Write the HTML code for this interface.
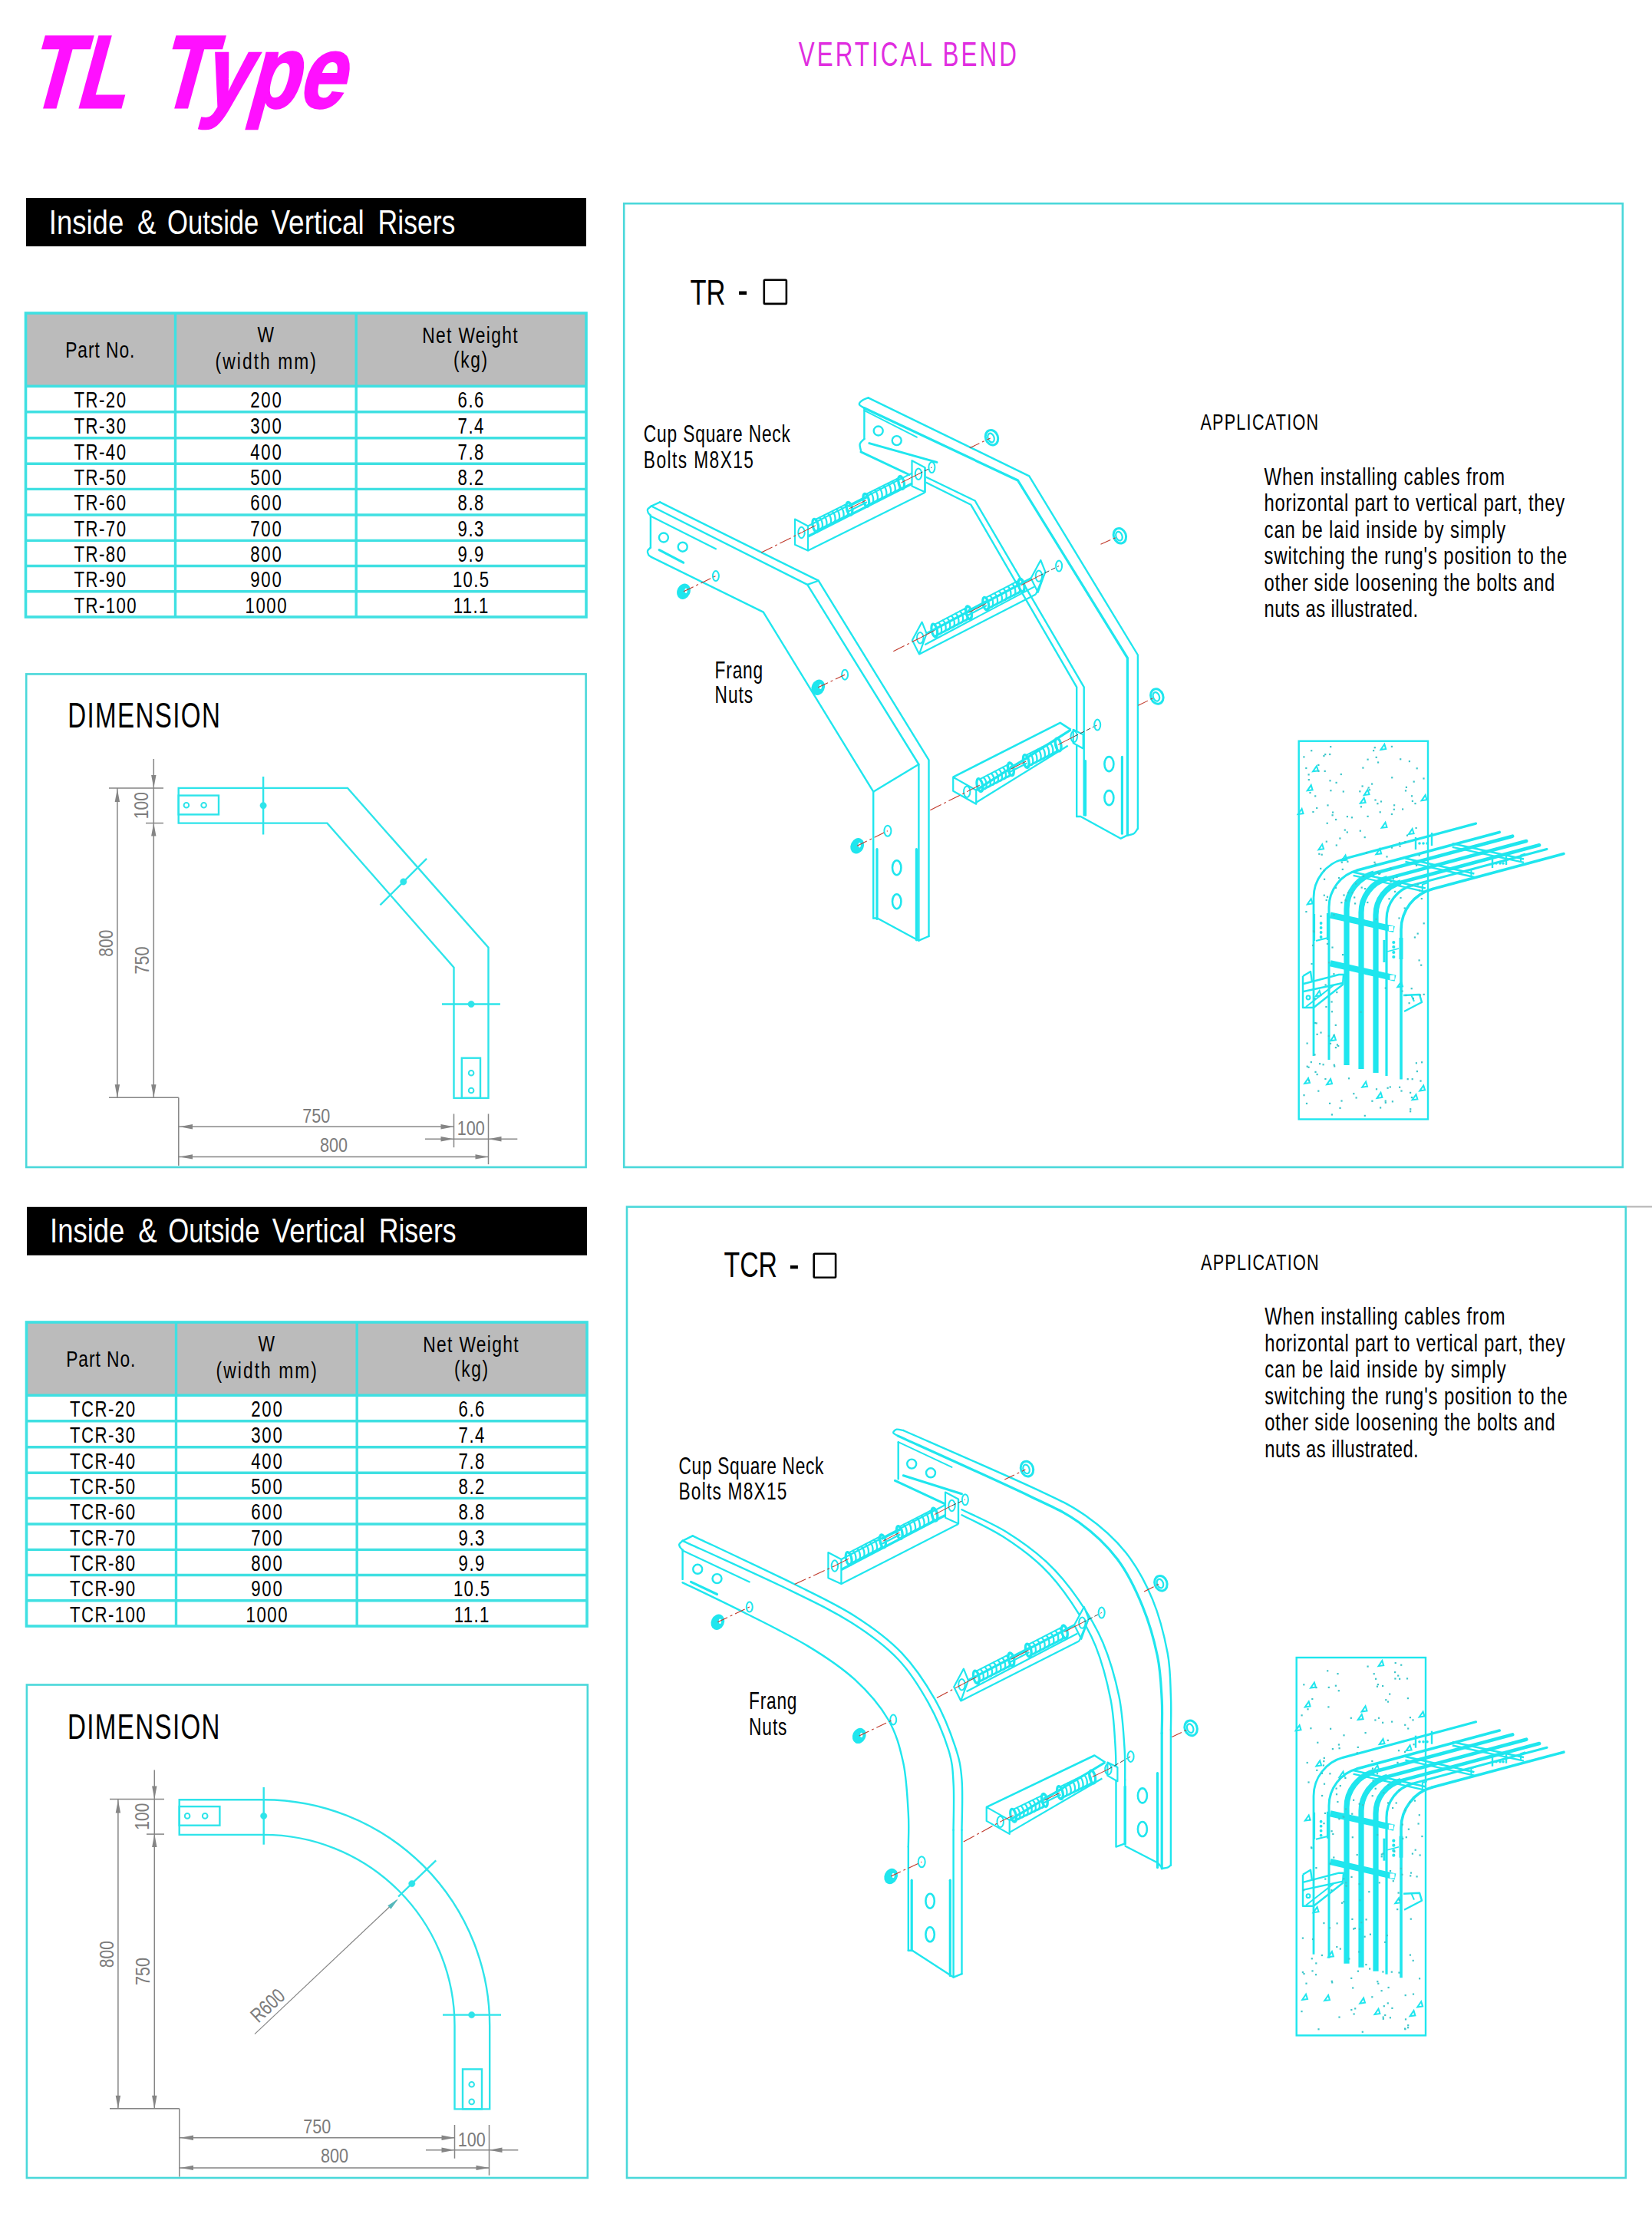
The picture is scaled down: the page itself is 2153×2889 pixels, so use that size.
<!DOCTYPE html>
<html><head><meta charset="utf-8"><style>
html,body{margin:0;padding:0;background:#fff;}
svg{display:block;font-family:"Liberation Sans",sans-serif;}
</style></head><body>
<svg width="2153" height="2889" viewBox="0 0 2153 2889">
<text transform="translate(33.2,140.4) skewX(-15.3) scale(0.78,1)" font-size="134" font-weight="bold" fill="#ff10ff" stroke="#ff10ff" stroke-width="3">TL</text>
<text transform="translate(203.8,140.4) skewX(-15.3) scale(0.80,1)" font-size="134" font-weight="bold" fill="#ff10ff" stroke="#ff10ff" stroke-width="3">Type</text>
<text transform="translate(1040.8,86) scale(0.72,1)" font-size="43.6" fill="#e02ee0" textLength="394.6" lengthAdjust="spacing">VERTICAL BEND</text>
<rect x="34" y="258" width="730" height="63" fill="#000"/>
<text x="63.8" y="304.6" font-size="44.5" fill="#fff" textLength="97.4" lengthAdjust="spacingAndGlyphs" >Inside</text>
<text x="179.0" y="304.6" font-size="44.5" fill="#fff" textLength="24.5" lengthAdjust="spacingAndGlyphs" >&amp;</text>
<text x="218.0" y="304.6" font-size="44.5" fill="#fff" textLength="119.4" lengthAdjust="spacingAndGlyphs" >Outside</text>
<text x="353.5" y="304.6" font-size="44.5" fill="#fff" textLength="121.2" lengthAdjust="spacingAndGlyphs" >Vertical</text>
<text x="492.5" y="304.6" font-size="44.5" fill="#fff" textLength="100.9" lengthAdjust="spacingAndGlyphs" >Risers</text>
<rect x="35" y="1572.8" width="730" height="63" fill="#000"/>
<text x="65.0" y="1619.4" font-size="44.5" fill="#fff" textLength="97.4" lengthAdjust="spacingAndGlyphs" >Inside</text>
<text x="180.2" y="1619.4" font-size="44.5" fill="#fff" textLength="24.5" lengthAdjust="spacingAndGlyphs" >&amp;</text>
<text x="219.2" y="1619.4" font-size="44.5" fill="#fff" textLength="119.4" lengthAdjust="spacingAndGlyphs" >Outside</text>
<text x="354.7" y="1619.4" font-size="44.5" fill="#fff" textLength="121.2" lengthAdjust="spacingAndGlyphs" >Vertical</text>
<text x="493.7" y="1619.4" font-size="44.5" fill="#fff" textLength="100.9" lengthAdjust="spacingAndGlyphs" >Risers</text>
<g transform="translate(0,0)">
<rect x="33.5" y="408" width="730.5" height="95" fill="#bbbbbb"/>
<rect x="33.5" y="408" width="730.5" height="396" fill="none" stroke="#3fe0e2" stroke-width="3.6"/>
<line x1="33.5" y1="503.2" x2="764" y2="503.2" stroke="#3fe0e2" stroke-width="3.4"/>
<line x1="33.5" y1="536.8" x2="764" y2="536.8" stroke="#3fe0e2" stroke-width="3.4"/>
<line x1="33.5" y1="570.8" x2="764" y2="570.8" stroke="#3fe0e2" stroke-width="3.4"/>
<line x1="33.5" y1="604.2" x2="764" y2="604.2" stroke="#3fe0e2" stroke-width="3.4"/>
<line x1="33.5" y1="637.4" x2="764" y2="637.4" stroke="#3fe0e2" stroke-width="3.4"/>
<line x1="33.5" y1="671.0" x2="764" y2="671.0" stroke="#3fe0e2" stroke-width="3.4"/>
<line x1="33.5" y1="704.4" x2="764" y2="704.4" stroke="#3fe0e2" stroke-width="3.4"/>
<line x1="33.5" y1="737.5" x2="764" y2="737.5" stroke="#3fe0e2" stroke-width="3.4"/>
<line x1="33.5" y1="770.8" x2="764" y2="770.8" stroke="#3fe0e2" stroke-width="3.4"/>
<line x1="228.5" y1="408" x2="228.5" y2="804" stroke="#3fe0e2" stroke-width="3.4"/>
<line x1="464.2" y1="408" x2="464.2" y2="804" stroke="#3fe0e2" stroke-width="3.4"/>
<text transform="translate(85.2,466) scale(0.76,1)" font-size="30" fill="#000" textLength="118.7" lengthAdjust="spacing">Part No.</text>
<text transform="translate(335.6,445.5) scale(0.76,1)" font-size="30" fill="#000" textLength="29.3" lengthAdjust="spacing">W</text>
<text transform="translate(280.6,480.5) scale(0.76,1)" font-size="30" fill="#000" textLength="172.8" lengthAdjust="spacing">(width mm)</text>
<text transform="translate(550.2,446.8) scale(0.76,1)" font-size="30" fill="#000" textLength="163.8" lengthAdjust="spacing">Net Weight</text>
<text transform="translate(591.0,479.3) scale(0.76,1)" font-size="30" fill="#000" textLength="58.0" lengthAdjust="spacing">(kg)</text>
<text transform="translate(96.5,531.2) scale(0.74,1)" font-size="30" textLength="91.2" lengthAdjust="spacing">TR-20</text>
<text transform="translate(326.2,531.2) scale(0.74,1)" font-size="30" textLength="54.8" lengthAdjust="spacing">200</text>
<text transform="translate(596.6,531.2) scale(0.74,1)" font-size="30" textLength="45.6" lengthAdjust="spacing">6.6</text>
<text transform="translate(96.5,565.2) scale(0.74,1)" font-size="30" textLength="91.2" lengthAdjust="spacing">TR-30</text>
<text transform="translate(326.2,565.2) scale(0.74,1)" font-size="30" textLength="54.8" lengthAdjust="spacing">300</text>
<text transform="translate(596.6,565.2) scale(0.74,1)" font-size="30" textLength="45.6" lengthAdjust="spacing">7.4</text>
<text transform="translate(96.5,598.6) scale(0.74,1)" font-size="30" textLength="91.2" lengthAdjust="spacing">TR-40</text>
<text transform="translate(326.2,598.6) scale(0.74,1)" font-size="30" textLength="54.8" lengthAdjust="spacing">400</text>
<text transform="translate(596.6,598.6) scale(0.74,1)" font-size="30" textLength="45.6" lengthAdjust="spacing">7.8</text>
<text transform="translate(96.5,631.8) scale(0.74,1)" font-size="30" textLength="91.2" lengthAdjust="spacing">TR-50</text>
<text transform="translate(326.2,631.8) scale(0.74,1)" font-size="30" textLength="54.8" lengthAdjust="spacing">500</text>
<text transform="translate(596.6,631.8) scale(0.74,1)" font-size="30" textLength="45.6" lengthAdjust="spacing">8.2</text>
<text transform="translate(96.5,665.4) scale(0.74,1)" font-size="30" textLength="91.2" lengthAdjust="spacing">TR-60</text>
<text transform="translate(326.2,665.4) scale(0.74,1)" font-size="30" textLength="54.8" lengthAdjust="spacing">600</text>
<text transform="translate(596.6,665.4) scale(0.74,1)" font-size="30" textLength="45.6" lengthAdjust="spacing">8.8</text>
<text transform="translate(96.5,698.8) scale(0.74,1)" font-size="30" textLength="91.2" lengthAdjust="spacing">TR-70</text>
<text transform="translate(326.2,698.8) scale(0.74,1)" font-size="30" textLength="54.8" lengthAdjust="spacing">700</text>
<text transform="translate(596.6,698.8) scale(0.74,1)" font-size="30" textLength="45.6" lengthAdjust="spacing">9.3</text>
<text transform="translate(96.5,731.9) scale(0.74,1)" font-size="30" textLength="91.2" lengthAdjust="spacing">TR-80</text>
<text transform="translate(326.2,731.9) scale(0.74,1)" font-size="30" textLength="54.8" lengthAdjust="spacing">800</text>
<text transform="translate(596.6,731.9) scale(0.74,1)" font-size="30" textLength="45.6" lengthAdjust="spacing">9.9</text>
<text transform="translate(96.5,765.2) scale(0.74,1)" font-size="30" textLength="91.2" lengthAdjust="spacing">TR-90</text>
<text transform="translate(326.2,765.2) scale(0.74,1)" font-size="30" textLength="54.8" lengthAdjust="spacing">900</text>
<text transform="translate(589.9,765.2) scale(0.74,1)" font-size="30" textLength="63.9" lengthAdjust="spacing">10.5</text>
<text transform="translate(96.5,798.8) scale(0.74,1)" font-size="30" textLength="109.5" lengthAdjust="spacing">TR-100</text>
<text transform="translate(319.5,798.8) scale(0.74,1)" font-size="30" textLength="73.1" lengthAdjust="spacing">1000</text>
<text transform="translate(590.8,798.8) scale(0.74,1)" font-size="30" textLength="61.5" lengthAdjust="spacing">11.1</text>
</g>
<g transform="translate(1,1315)">
<rect x="33.5" y="408" width="730.5" height="95" fill="#bbbbbb"/>
<rect x="33.5" y="408" width="730.5" height="396" fill="none" stroke="#3fe0e2" stroke-width="3.6"/>
<line x1="33.5" y1="503.2" x2="764" y2="503.2" stroke="#3fe0e2" stroke-width="3.4"/>
<line x1="33.5" y1="536.8" x2="764" y2="536.8" stroke="#3fe0e2" stroke-width="3.4"/>
<line x1="33.5" y1="570.8" x2="764" y2="570.8" stroke="#3fe0e2" stroke-width="3.4"/>
<line x1="33.5" y1="604.2" x2="764" y2="604.2" stroke="#3fe0e2" stroke-width="3.4"/>
<line x1="33.5" y1="637.4" x2="764" y2="637.4" stroke="#3fe0e2" stroke-width="3.4"/>
<line x1="33.5" y1="671.0" x2="764" y2="671.0" stroke="#3fe0e2" stroke-width="3.4"/>
<line x1="33.5" y1="704.4" x2="764" y2="704.4" stroke="#3fe0e2" stroke-width="3.4"/>
<line x1="33.5" y1="737.5" x2="764" y2="737.5" stroke="#3fe0e2" stroke-width="3.4"/>
<line x1="33.5" y1="770.8" x2="764" y2="770.8" stroke="#3fe0e2" stroke-width="3.4"/>
<line x1="228.5" y1="408" x2="228.5" y2="804" stroke="#3fe0e2" stroke-width="3.4"/>
<line x1="464.2" y1="408" x2="464.2" y2="804" stroke="#3fe0e2" stroke-width="3.4"/>
<text transform="translate(85.2,466) scale(0.76,1)" font-size="30" fill="#000" textLength="118.7" lengthAdjust="spacing">Part No.</text>
<text transform="translate(335.6,445.5) scale(0.76,1)" font-size="30" fill="#000" textLength="29.3" lengthAdjust="spacing">W</text>
<text transform="translate(280.6,480.5) scale(0.76,1)" font-size="30" fill="#000" textLength="172.8" lengthAdjust="spacing">(width mm)</text>
<text transform="translate(550.2,446.8) scale(0.76,1)" font-size="30" fill="#000" textLength="163.8" lengthAdjust="spacing">Net Weight</text>
<text transform="translate(591.0,479.3) scale(0.76,1)" font-size="30" fill="#000" textLength="58.0" lengthAdjust="spacing">(kg)</text>
<text transform="translate(90.0,531.2) scale(0.74,1)" font-size="30" textLength="114.9" lengthAdjust="spacing">TCR-20</text>
<text transform="translate(326.2,531.2) scale(0.74,1)" font-size="30" textLength="54.8" lengthAdjust="spacing">200</text>
<text transform="translate(596.6,531.2) scale(0.74,1)" font-size="30" textLength="45.6" lengthAdjust="spacing">6.6</text>
<text transform="translate(90.0,565.2) scale(0.74,1)" font-size="30" textLength="114.9" lengthAdjust="spacing">TCR-30</text>
<text transform="translate(326.2,565.2) scale(0.74,1)" font-size="30" textLength="54.8" lengthAdjust="spacing">300</text>
<text transform="translate(596.6,565.2) scale(0.74,1)" font-size="30" textLength="45.6" lengthAdjust="spacing">7.4</text>
<text transform="translate(90.0,598.6) scale(0.74,1)" font-size="30" textLength="114.9" lengthAdjust="spacing">TCR-40</text>
<text transform="translate(326.2,598.6) scale(0.74,1)" font-size="30" textLength="54.8" lengthAdjust="spacing">400</text>
<text transform="translate(596.6,598.6) scale(0.74,1)" font-size="30" textLength="45.6" lengthAdjust="spacing">7.8</text>
<text transform="translate(90.0,631.8) scale(0.74,1)" font-size="30" textLength="114.9" lengthAdjust="spacing">TCR-50</text>
<text transform="translate(326.2,631.8) scale(0.74,1)" font-size="30" textLength="54.8" lengthAdjust="spacing">500</text>
<text transform="translate(596.6,631.8) scale(0.74,1)" font-size="30" textLength="45.6" lengthAdjust="spacing">8.2</text>
<text transform="translate(90.0,665.4) scale(0.74,1)" font-size="30" textLength="114.9" lengthAdjust="spacing">TCR-60</text>
<text transform="translate(326.2,665.4) scale(0.74,1)" font-size="30" textLength="54.8" lengthAdjust="spacing">600</text>
<text transform="translate(596.6,665.4) scale(0.74,1)" font-size="30" textLength="45.6" lengthAdjust="spacing">8.8</text>
<text transform="translate(90.0,698.8) scale(0.74,1)" font-size="30" textLength="114.9" lengthAdjust="spacing">TCR-70</text>
<text transform="translate(326.2,698.8) scale(0.74,1)" font-size="30" textLength="54.8" lengthAdjust="spacing">700</text>
<text transform="translate(596.6,698.8) scale(0.74,1)" font-size="30" textLength="45.6" lengthAdjust="spacing">9.3</text>
<text transform="translate(90.0,731.9) scale(0.74,1)" font-size="30" textLength="114.9" lengthAdjust="spacing">TCR-80</text>
<text transform="translate(326.2,731.9) scale(0.74,1)" font-size="30" textLength="54.8" lengthAdjust="spacing">800</text>
<text transform="translate(596.6,731.9) scale(0.74,1)" font-size="30" textLength="45.6" lengthAdjust="spacing">9.9</text>
<text transform="translate(90.0,765.2) scale(0.74,1)" font-size="30" textLength="114.9" lengthAdjust="spacing">TCR-90</text>
<text transform="translate(326.2,765.2) scale(0.74,1)" font-size="30" textLength="54.8" lengthAdjust="spacing">900</text>
<text transform="translate(589.9,765.2) scale(0.74,1)" font-size="30" textLength="63.9" lengthAdjust="spacing">10.5</text>
<text transform="translate(90.0,798.8) scale(0.74,1)" font-size="30" textLength="133.2" lengthAdjust="spacing">TCR-100</text>
<text transform="translate(319.5,798.8) scale(0.74,1)" font-size="30" textLength="73.1" lengthAdjust="spacing">1000</text>
<text transform="translate(590.8,798.8) scale(0.74,1)" font-size="30" textLength="61.5" lengthAdjust="spacing">11.1</text>
</g>
<rect x="34.2" y="878.4" width="729.4" height="642.6" fill="none" stroke="#4ad8da" stroke-width="2.6"/>
<rect x="34.9" y="2195.5" width="730.9" height="642.5" fill="none" stroke="#4ad8da" stroke-width="2.6"/>
<rect x="813.2" y="265.2" width="1301.6" height="1255.8" fill="none" stroke="#4ad8da" stroke-width="2.6"/>
<rect x="817" y="1572.6" width="1301.8" height="1265.4" fill="none" stroke="#4ad8da" stroke-width="2.6"/>
<line x1="2120" y1="1572.6" x2="2153" y2="1572.6" stroke="#b4b4b4" stroke-width="2"/>
<text transform="translate(88.3,948.3) scale(0.72,1)" font-size="46" fill="#000" textLength="275.7" lengthAdjust="spacing">DIMENSION</text>
<text transform="translate(88.0,2265.8) scale(0.72,1)" font-size="46" fill="#000" textLength="275.7" lengthAdjust="spacing">DIMENSION</text>
<text x="899.5" y="396.5" font-size="46" fill="#000" textLength="46" lengthAdjust="spacingAndGlyphs" >TR</text>
<rect x="963.1" y="379.5" width="10" height="4.6" fill="#000"/>
<rect x="995.8" y="364.7" width="29.1" height="31.2" rx="1.2" fill="none" stroke="#000" stroke-width="2.6"/>
<text x="943.5" y="1664" font-size="46" fill="#000" textLength="69.5" lengthAdjust="spacingAndGlyphs" >TCR</text>
<rect x="1029.9" y="1649" width="10" height="4.4" fill="#000"/>
<text transform="translate(1564.4,560.1) scale(0.72,1)" font-size="30" fill="#000" textLength="213.5" lengthAdjust="spacing">APPLICATION</text>
<text transform="translate(1647.6,631.6) scale(0.78,1)" font-size="30.5" textLength="401.9" lengthAdjust="spacing">When installing cables from</text>
<text transform="translate(1647.6,666.15) scale(0.78,1)" font-size="30.5" textLength="501.9" lengthAdjust="spacing">horizontal part to vertical part, they</text>
<text transform="translate(1647.6,700.7) scale(0.78,1)" font-size="30.5" textLength="403.2" lengthAdjust="spacing">can be laid inside by simply</text>
<text transform="translate(1647.6,735.25) scale(0.78,1)" font-size="30.5" textLength="505.8" lengthAdjust="spacing">switching the rung's position to the</text>
<text transform="translate(1647.6,769.8) scale(0.78,1)" font-size="30.5" textLength="485.3" lengthAdjust="spacing">other side loosening the bolts and</text>
<text transform="translate(1647.6,804.35) scale(0.78,1)" font-size="30.5" textLength="257.1" lengthAdjust="spacing">nuts as illustrated.</text>
<text transform="translate(1565.0,1654.6999999999998) scale(0.72,1)" font-size="30" fill="#000" textLength="213.5" lengthAdjust="spacing">APPLICATION</text>
<text transform="translate(1648.1999999999998,1726.1999999999998) scale(0.78,1)" font-size="30.5" textLength="401.9" lengthAdjust="spacing">When installing cables from</text>
<text transform="translate(1648.1999999999998,1760.7499999999998) scale(0.78,1)" font-size="30.5" textLength="501.9" lengthAdjust="spacing">horizontal part to vertical part, they</text>
<text transform="translate(1648.1999999999998,1795.2999999999997) scale(0.78,1)" font-size="30.5" textLength="403.2" lengthAdjust="spacing">can be laid inside by simply</text>
<text transform="translate(1648.1999999999998,1829.85) scale(0.78,1)" font-size="30.5" textLength="505.8" lengthAdjust="spacing">switching the rung's position to the</text>
<text transform="translate(1648.1999999999998,1864.3999999999999) scale(0.78,1)" font-size="30.5" textLength="485.3" lengthAdjust="spacing">other side loosening the bolts and</text>
<text transform="translate(1648.1999999999998,1898.9499999999998) scale(0.78,1)" font-size="30.5" textLength="257.1" lengthAdjust="spacing">nuts as illustrated.</text>
<text transform="translate(838.8,576.3) scale(0.71,1)" font-size="32" fill="#000" textLength="269.2" lengthAdjust="spacing">Cup Square Neck</text>
<text transform="translate(838.8,610.2) scale(0.71,1)" font-size="32" fill="#000" textLength="201.7" lengthAdjust="spacing">Bolts M8X15</text>
<polygon points="232.7,1026.9 453,1026.9 636.5,1234.7 636.5,1430.9 591.5,1430.9 591.5,1260.6 426.4,1072.6 232.7,1072.6" fill="none" stroke="#2ee4ea" stroke-width="2.4" stroke-linejoin="miter"/>
<rect x="232.7" y="1036.6" width="52.3" height="24.8" fill="none" stroke="#2ee4ea" stroke-width="2.4"/>
<circle cx="242.9" cy="1049.2" r="3.3" fill="none" stroke="#2ee4ea" stroke-width="2"/>
<circle cx="265.6" cy="1049.2" r="3.3" fill="none" stroke="#2ee4ea" stroke-width="2"/>
<line x1="343.1" y1="1012.0" x2="343.1" y2="1087.5" stroke="#2ee4ea" stroke-width="2.4"/>
<circle cx="343.1" cy="1049.7" r="4.2" fill="#2ee4ea" stroke="#2ee4ea" stroke-width="0.5"/>
<line x1="495.5" y1="1179.4" x2="556.1" y2="1118.8" stroke="#2ee4ea" stroke-width="2.4"/>
<circle cx="525.8" cy="1149.0" r="4.2" fill="#2ee4ea" stroke="#2ee4ea" stroke-width="0.5"/>
<rect x="601.8" y="1378.7" width="24.2" height="52.2" fill="none" stroke="#2ee4ea" stroke-width="2.4"/>
<circle cx="614.1" cy="1398.3" r="3.3" fill="none" stroke="#2ee4ea" stroke-width="2"/>
<circle cx="614.1" cy="1421.0" r="3.3" fill="none" stroke="#2ee4ea" stroke-width="2"/>
<line x1="576.0" y1="1308.5" x2="651.9" y2="1308.5" stroke="#2ee4ea" stroke-width="2.4"/>
<circle cx="614.1" cy="1308.5" r="4.2" fill="#2ee4ea" stroke="#2ee4ea" stroke-width="0.5"/>
<line x1="142.0" y1="1026.9" x2="213.0" y2="1026.9" stroke="#858585" stroke-width="1.5"/>
<line x1="190.0" y1="1072.6" x2="213.0" y2="1072.6" stroke="#858585" stroke-width="1.5"/>
<line x1="200.3" y1="989.0" x2="200.3" y2="1430.3" stroke="#858585" stroke-width="1.5"/>
<polygon points="200.3,1026.9 197.1,1009.9 203.5,1009.9" fill="#858585"/>
<polygon points="200.3,1072.6 203.5,1089.6 197.1,1089.6" fill="#858585"/>
<polygon points="200.3,1430.3 197.1,1413.3 203.5,1413.3" fill="#858585"/>
<line x1="152.9" y1="1026.9" x2="152.9" y2="1430.3" stroke="#858585" stroke-width="1.5"/>
<polygon points="152.9,1028.0 156.1,1045.0 149.7,1045.0" fill="#858585"/>
<polygon points="152.9,1430.3 149.7,1413.3 156.1,1413.3" fill="#858585"/>
<line x1="142.0" y1="1430.3" x2="232.8" y2="1430.3" stroke="#858585" stroke-width="1.5"/>
<line x1="232.8" y1="1430.3" x2="232.8" y2="1519.0" stroke="#858585" stroke-width="1.5"/>
<line x1="232.8" y1="1468.3" x2="591.5" y2="1468.3" stroke="#858585" stroke-width="1.5"/>
<polygon points="234.0,1468.3 251.0,1465.1 251.0,1471.5" fill="#858585"/>
<polygon points="591.5,1468.3 574.5,1471.5 574.5,1465.1" fill="#858585"/>
<line x1="554.0" y1="1484.3" x2="674.3" y2="1484.3" stroke="#858585" stroke-width="1.5"/>
<polygon points="591.5,1484.3 574.5,1487.5 574.5,1481.1" fill="#858585"/>
<polygon points="636.5,1484.3 653.5,1481.1 653.5,1487.5" fill="#858585"/>
<line x1="232.8" y1="1507.4" x2="636.5" y2="1507.4" stroke="#858585" stroke-width="1.5"/>
<polygon points="234.0,1507.4 251.0,1504.2 251.0,1510.6" fill="#858585"/>
<polygon points="636.5,1507.4 619.5,1510.6 619.5,1504.2" fill="#858585"/>
<line x1="591.5" y1="1451.5" x2="591.5" y2="1495.2" stroke="#858585" stroke-width="1.5"/>
<line x1="636.5" y1="1451.5" x2="636.5" y2="1517.2" stroke="#858585" stroke-width="1.5"/>
<text x="193.5" y="1049.7" font-size="26.5" fill="#7c7c7c" text-anchor="middle" textLength="35" lengthAdjust="spacingAndGlyphs" transform="rotate(-90 193.5 1049.7)">100</text>
<text x="147.0" y="1229.2" font-size="26.5" fill="#7c7c7c" text-anchor="middle" textLength="35" lengthAdjust="spacingAndGlyphs" transform="rotate(-90 147.0 1229.2)">800</text>
<text x="194.5" y="1251.4" font-size="26.5" fill="#7c7c7c" text-anchor="middle" textLength="36" lengthAdjust="spacingAndGlyphs" transform="rotate(-90 194.5 1251.4)">750</text>
<text x="412.2" y="1462.8" font-size="26.5" fill="#7c7c7c" text-anchor="middle" textLength="36" lengthAdjust="spacingAndGlyphs">750</text>
<text x="434.9" y="1500.9" font-size="26.5" fill="#7c7c7c" text-anchor="middle" textLength="36" lengthAdjust="spacingAndGlyphs">800</text>
<text x="613.8" y="1479.4" font-size="26.5" fill="#7c7c7c" text-anchor="middle" textLength="36" lengthAdjust="spacingAndGlyphs">100</text>
<g transform="translate(1.0,1317.5)">
<line x1="142.0" y1="1026.9" x2="213.0" y2="1026.9" stroke="#858585" stroke-width="1.5"/>
<line x1="190.0" y1="1072.6" x2="213.0" y2="1072.6" stroke="#858585" stroke-width="1.5"/>
<line x1="200.3" y1="989.0" x2="200.3" y2="1430.3" stroke="#858585" stroke-width="1.5"/>
<polygon points="200.3,1026.9 197.1,1009.9 203.5,1009.9" fill="#858585"/>
<polygon points="200.3,1072.6 203.5,1089.6 197.1,1089.6" fill="#858585"/>
<polygon points="200.3,1430.3 197.1,1413.3 203.5,1413.3" fill="#858585"/>
<line x1="152.9" y1="1026.9" x2="152.9" y2="1430.3" stroke="#858585" stroke-width="1.5"/>
<polygon points="152.9,1028.0 156.1,1045.0 149.7,1045.0" fill="#858585"/>
<polygon points="152.9,1430.3 149.7,1413.3 156.1,1413.3" fill="#858585"/>
<line x1="142.0" y1="1430.3" x2="232.8" y2="1430.3" stroke="#858585" stroke-width="1.5"/>
<line x1="232.8" y1="1430.3" x2="232.8" y2="1519.0" stroke="#858585" stroke-width="1.5"/>
<line x1="232.8" y1="1468.3" x2="591.5" y2="1468.3" stroke="#858585" stroke-width="1.5"/>
<polygon points="234.0,1468.3 251.0,1465.1 251.0,1471.5" fill="#858585"/>
<polygon points="591.5,1468.3 574.5,1471.5 574.5,1465.1" fill="#858585"/>
<line x1="554.0" y1="1484.3" x2="674.3" y2="1484.3" stroke="#858585" stroke-width="1.5"/>
<polygon points="591.5,1484.3 574.5,1487.5 574.5,1481.1" fill="#858585"/>
<polygon points="636.5,1484.3 653.5,1481.1 653.5,1487.5" fill="#858585"/>
<line x1="232.8" y1="1507.4" x2="636.5" y2="1507.4" stroke="#858585" stroke-width="1.5"/>
<polygon points="234.0,1507.4 251.0,1504.2 251.0,1510.6" fill="#858585"/>
<polygon points="636.5,1507.4 619.5,1510.6 619.5,1504.2" fill="#858585"/>
<line x1="591.5" y1="1451.5" x2="591.5" y2="1495.2" stroke="#858585" stroke-width="1.5"/>
<line x1="636.5" y1="1451.5" x2="636.5" y2="1517.2" stroke="#858585" stroke-width="1.5"/>
<text x="193.5" y="1049.7" font-size="26.5" fill="#7c7c7c" text-anchor="middle" textLength="35" lengthAdjust="spacingAndGlyphs" transform="rotate(-90 193.5 1049.7)">100</text>
<text x="147.0" y="1229.2" font-size="26.5" fill="#7c7c7c" text-anchor="middle" textLength="35" lengthAdjust="spacingAndGlyphs" transform="rotate(-90 147.0 1229.2)">800</text>
<text x="194.5" y="1251.4" font-size="26.5" fill="#7c7c7c" text-anchor="middle" textLength="36" lengthAdjust="spacingAndGlyphs" transform="rotate(-90 194.5 1251.4)">750</text>
<text x="412.2" y="1462.8" font-size="26.5" fill="#7c7c7c" text-anchor="middle" textLength="36" lengthAdjust="spacingAndGlyphs">750</text>
<text x="434.9" y="1500.9" font-size="26.5" fill="#7c7c7c" text-anchor="middle" textLength="36" lengthAdjust="spacingAndGlyphs">800</text>
<text x="613.8" y="1479.4" font-size="26.5" fill="#7c7c7c" text-anchor="middle" textLength="36" lengthAdjust="spacingAndGlyphs">100</text>
</g>
<path d="M233.7,2345.2 L343.7,2345.2 A294.5,294.5 0 0 1 638.2,2639.7 L638.2,2748.4 L592.5,2748.4 L592.5,2639.7 A248.8,248.8 0 0 0 343.7,2390.8999999999996 L233.7,2390.8999999999996 Z" fill="none" stroke="#2ee4ea" stroke-width="2.4"/>
<rect x="233.7" y="2354.1" width="52.7" height="24.6" fill="none" stroke="#2ee4ea" stroke-width="2.4"/>
<circle cx="244.1" cy="2366.4" r="3.3" fill="none" stroke="#2ee4ea" stroke-width="2"/>
<circle cx="267.2" cy="2366.4" r="3.3" fill="none" stroke="#2ee4ea" stroke-width="2"/>
<line x1="343.7" y1="2329.0" x2="343.7" y2="2403.7" stroke="#2ee4ea" stroke-width="2.4"/>
<circle cx="343.7" cy="2366.4" r="4.2" fill="#2ee4ea" stroke="#2ee4ea" stroke-width="0.5"/>
<line x1="519.1" y1="2471.5" x2="568.2" y2="2424.4" stroke="#2ee4ea" stroke-width="2.4"/>
<circle cx="536.8" cy="2454.6" r="4.2" fill="#2ee4ea" stroke="#2ee4ea" stroke-width="0.5"/>
<rect x="603" y="2696.4" width="25" height="52" fill="none" stroke="#2ee4ea" stroke-width="2.4"/>
<circle cx="614.7" cy="2716.3" r="3.3" fill="none" stroke="#2ee4ea" stroke-width="2"/>
<circle cx="614.7" cy="2738.9" r="3.3" fill="none" stroke="#2ee4ea" stroke-width="2"/>
<line x1="577.0" y1="2625.6" x2="653.0" y2="2625.6" stroke="#2ee4ea" stroke-width="2.4"/>
<circle cx="614.7" cy="2625.6" r="4.2" fill="#2ee4ea" stroke="#2ee4ea" stroke-width="0.5"/>
<line x1="332.0" y1="2650.6" x2="517.0" y2="2476.0" stroke="#858585" stroke-width="1.2"/>
<polygon points="519.0,2474.5 509.4,2487.7 505.3,2483.3" fill="#55b8bb"/>
<text x="355.0" y="2620.0" font-size="26.5" fill="#7c7c7c" text-anchor="middle" textLength="50" lengthAdjust="spacingAndGlyphs" transform="rotate(-43 355.0 2620.0)">R600</text>
<polyline points="860.1,654.3 1066.7,756.7 1210.5,990.3 1210.5,1220.0" fill="none" stroke="#1fe6ee" stroke-width="2.4" stroke-linejoin="round" stroke-linecap="round" />
<polyline points="848.8,659.5 1052.3,761.9 1197.4,996.0 1197.4,1225.7" fill="none" stroke="#1fe6ee" stroke-width="2.4" stroke-linejoin="round" stroke-linecap="round" />
<polyline points="848.8,725.8 994.8,797.7 1138.2,1031.7 1138.2,1196.5" fill="none" stroke="#1fe6ee" stroke-width="2.4" stroke-linejoin="round" stroke-linecap="round" />
<polyline points="1138.2,1196.5 1143.4,1196.5 1197.4,1225.7 1210.5,1220.0" fill="none" stroke="#1fe6ee" stroke-width="2.4" stroke-linejoin="round" stroke-linecap="round" />
<polyline points="1138.2,1031.7 1197.4,996.0" fill="none" stroke="#1fe6ee" stroke-width="2.4" stroke-linejoin="round" stroke-linecap="round" />
<polyline points="1052.3,761.9 1066.7,756.7" fill="none" stroke="#1fe6ee" stroke-width="2.2" stroke-linejoin="round" stroke-linecap="round" />
<path d="M848.8,659.5 C848.0,660.2 844.6,662.4 844.0,663.9 C843.3,665.3 844.2,666.9 844.8,668.2 C845.5,669.5 847.4,671.1 847.9,671.7" fill="none" stroke="#1fe6ee" stroke-width="2.4" stroke-linecap="round"/>
<polyline points="847.9,671.7 847.9,713.6" fill="none" stroke="#1fe6ee" stroke-width="2.4" stroke-linejoin="round" stroke-linecap="round" />
<path d="M847.9,713.6 C847.2,714.3 844.4,716.3 844.0,717.9 C843.5,719.5 844.5,721.8 845.3,723.2 C846.1,724.5 848.2,725.3 848.8,725.8" fill="none" stroke="#1fe6ee" stroke-width="2.4" stroke-linecap="round"/>
<polyline points="860.1,654.3 848.8,659.5" fill="none" stroke="#1fe6ee" stroke-width="2.4" stroke-linejoin="round" stroke-linecap="round" />
<polyline points="847.9,672.6 932.9,715.3" fill="none" stroke="#1fe6ee" stroke-width="2.2" stroke-linejoin="round" stroke-linecap="round" />
<polyline points="859.2,716.6 890.6,733.2" fill="none" stroke="#1fe6ee" stroke-width="3.2" stroke-linejoin="round" stroke-linecap="round" />
<ellipse cx="864.9" cy="700.5" rx="6" ry="6" fill="none" stroke="#1fe6ee" stroke-width="2.4"/>
<ellipse cx="889.7" cy="712.7" rx="6" ry="6" fill="none" stroke="#1fe6ee" stroke-width="2.4"/>
<polyline points="1143.0,1106.7 1143.0,1197.4" fill="none" stroke="#1fe6ee" stroke-width="3.2" stroke-linejoin="round" stroke-linecap="round" />
<polyline points="1194.4,1106.7 1194.4,1224.8" fill="none" stroke="#1fe6ee" stroke-width="3.2" stroke-linejoin="round" stroke-linecap="round" />
<ellipse cx="1168.7" cy="1130.7" rx="5.7" ry="9.5" fill="none" stroke="#1fe6ee" stroke-width="2.6"/>
<ellipse cx="1168.7" cy="1174.7" rx="5.7" ry="9.5" fill="none" stroke="#1fe6ee" stroke-width="2.6"/>
<ellipse cx="932.9" cy="750.6" rx="4" ry="6.5" fill="none" stroke="#1fe6ee" stroke-width="2"/>
<ellipse cx="891.0" cy="770.7" rx="8.5" ry="10.5" fill="#1fe6ee" transform="rotate(25 891.0 770.7)"/><ellipse cx="894.0" cy="769.7" rx="1.6" ry="3.2" fill="#fff"/>
<line x1="891.0" y1="770.7" x2="932.9" y2="750.6" stroke="#c0392b" stroke-width="1.1" stroke-dasharray="14 4 3 4"/>
<ellipse cx="1101.1" cy="879.2" rx="4" ry="6.5" fill="none" stroke="#1fe6ee" stroke-width="2"/>
<ellipse cx="1066.3" cy="895.7" rx="8.5" ry="10.5" fill="#1fe6ee" transform="rotate(25 1066.3 895.7)"/><ellipse cx="1069.3" cy="894.7" rx="1.6" ry="3.2" fill="#fff"/>
<line x1="1066.3" y1="895.7" x2="1101.1" y2="879.2" stroke="#c0392b" stroke-width="1.1" stroke-dasharray="14 4 3 4"/>
<ellipse cx="1156.9" cy="1082.7" rx="4.5" ry="7" fill="none" stroke="#1fe6ee" stroke-width="2"/>
<ellipse cx="1117.2" cy="1102.3" rx="8.5" ry="10.5" fill="#1fe6ee" transform="rotate(25 1117.2 1102.3)"/><ellipse cx="1120.2" cy="1101.3" rx="1.6" ry="3.2" fill="#fff"/>
<line x1="1117.2" y1="1102.3" x2="1156.9" y2="1082.7" stroke="#c0392b" stroke-width="1.1" stroke-dasharray="14 4 3 4"/>
<polyline points="1131.6,518.3 1341.3,620.3 1482.9,853.5 1482.9,1079.7" fill="none" stroke="#1fe6ee" stroke-width="2.4" stroke-linejoin="round" stroke-linecap="round" />
<polyline points="1126.4,531.8 1326.5,626.0 1469.4,857.4 1469.4,1088.4" fill="none" stroke="#1fe6ee" stroke-width="3.2" stroke-linejoin="round" stroke-linecap="round" />
<path d="M1469.4,1088.4 C1470.7,1088.1 1475.0,1088.1 1477.3,1086.6 C1479.5,1085.2 1482.0,1080.8 1482.9,1079.7" fill="none" stroke="#1fe6ee" stroke-width="2.4" stroke-linecap="round"/>
<path d="M1126.4,531.8 C1125.3,531.0 1120.3,528.7 1119.9,527.0 C1119.4,525.4 1121.8,523.2 1123.8,521.8 C1125.7,520.3 1130.3,518.9 1131.6,518.3" fill="none" stroke="#1fe6ee" stroke-width="2.4" stroke-linecap="round"/>
<polyline points="1126.4,531.8 1126.4,571.9" fill="none" stroke="#1fe6ee" stroke-width="2.4" stroke-linejoin="round" stroke-linecap="round" />
<path d="M1126.4,571.9 C1125.5,573.0 1121.5,575.9 1120.7,578.5 C1120.0,581.0 1121.8,585.7 1122.0,587.2" fill="none" stroke="#1fe6ee" stroke-width="2.4" stroke-linecap="round"/>
<polyline points="1122.0,588.9 1184.8,618.5" fill="none" stroke="#1fe6ee" stroke-width="3.0" stroke-linejoin="round" stroke-linecap="round" />
<polyline points="1126.4,534.9 1194.8,569.7" fill="none" stroke="#1fe6ee" stroke-width="2.0" stroke-linejoin="round" stroke-linecap="round" />
<polyline points="1132.9,577.6 1221.0,602.4" fill="none" stroke="#1fe6ee" stroke-width="3.0" stroke-linejoin="round" stroke-linecap="round" />
<polyline points="1207.5,622.0 1270.7,652.5 1412.7,895.3 1412.7,1062.2" fill="none" stroke="#1fe6ee" stroke-width="2.4" stroke-linejoin="round" stroke-linecap="round" />
<polyline points="1207.5,629.0 1265.4,657.8 1403.2,895.3 1403.2,1064.0" fill="none" stroke="#1fe6ee" stroke-width="2.4" stroke-linejoin="round" stroke-linecap="round" />
<polyline points="1403.2,1064.0 1408.4,1064.0 1460.7,1092.7 1469.4,1088.4" fill="none" stroke="#1fe6ee" stroke-width="2.4" stroke-linejoin="round" stroke-linecap="round" />
<polyline points="1414.5,991.6 1414.5,1062.2" fill="none" stroke="#1fe6ee" stroke-width="3.2" stroke-linejoin="round" stroke-linecap="round" />
<polyline points="1462.4,986.4 1462.4,1086.2" fill="none" stroke="#1fe6ee" stroke-width="3.2" stroke-linejoin="round" stroke-linecap="round" />
<ellipse cx="1445.4" cy="995.6" rx="6" ry="9.5" fill="none" stroke="#1fe6ee" stroke-width="2.6"/>
<ellipse cx="1445.4" cy="1039.6" rx="6" ry="9.5" fill="none" stroke="#1fe6ee" stroke-width="2.6"/>
<ellipse cx="1144.7" cy="561.5" rx="6" ry="6" fill="none" stroke="#1fe6ee" stroke-width="2.4"/>
<ellipse cx="1168.7" cy="574.1" rx="6" ry="6" fill="none" stroke="#1fe6ee" stroke-width="2.4"/>
<ellipse cx="1292.5" cy="570.2" rx="8" ry="10" fill="none" stroke="#1fe6ee" stroke-width="3" transform="rotate(-20 1292.5 570.2)"/><ellipse cx="1291.5" cy="570.2" rx="4" ry="6" fill="none" stroke="#1fe6ee" stroke-width="2.2" transform="rotate(-20 1292.5 570.2)"/>
<line x1="1263.7" y1="583.7" x2="1290.7" y2="571.0" stroke="#c0392b" stroke-width="1.1" stroke-dasharray="14 4 3 4"/>
<ellipse cx="1459.4" cy="698.3" rx="8" ry="10" fill="none" stroke="#1fe6ee" stroke-width="3" transform="rotate(-20 1459.4 698.3)"/><ellipse cx="1458.4" cy="698.3" rx="4" ry="6" fill="none" stroke="#1fe6ee" stroke-width="2.2" transform="rotate(-20 1459.4 698.3)"/>
<line x1="1434.5" y1="709.2" x2="1457.2" y2="699.2" stroke="#c0392b" stroke-width="1.1" stroke-dasharray="14 4 3 4"/>
<ellipse cx="1507.8" cy="907.5" rx="8" ry="10" fill="none" stroke="#1fe6ee" stroke-width="3" transform="rotate(-20 1507.8 907.5)"/><ellipse cx="1506.8" cy="907.5" rx="4" ry="6" fill="none" stroke="#1fe6ee" stroke-width="2.2" transform="rotate(-20 1507.8 907.5)"/>
<line x1="1483.4" y1="919.3" x2="1505.6" y2="908.4" stroke="#c0392b" stroke-width="1.1" stroke-dasharray="14 4 3 4"/>
<polygon points="1036.0,676.5 1053.0,685.5 1053.0,717.6 1036.0,709.8" fill="#fff" stroke="#1fe6ee" stroke-width="2.2" stroke-linejoin="round"/>
<ellipse cx="1044.5" cy="694.0" rx="4.2" ry="7.2" fill="none" stroke="#1fe6ee" stroke-width="2"/>
<polygon points="1188.5,600.2 1205.5,609.2 1205.5,641.3 1188.5,633.5" fill="#fff" stroke="#1fe6ee" stroke-width="2.2" stroke-linejoin="round"/>
<ellipse cx="1197.0" cy="617.7" rx="4.2" ry="7.2" fill="none" stroke="#1fe6ee" stroke-width="2"/>
<polyline points="1053.0,717.6 1205.0,642.0" fill="none" stroke="#1fe6ee" stroke-width="2.2" stroke-linejoin="round"/>
<polyline points="1053.0,699.0 1188.5,630.2" fill="none" stroke="#1fe6ee" stroke-width="3.2" stroke-linejoin="round"/>
<polyline points="1053.0,685.5 1188.5,616.7" fill="none" stroke="#1fe6ee" stroke-width="2" stroke-linejoin="round"/>
<polyline points="1205.5,609.2 1205.5,642.0" fill="none" stroke="#1fe6ee" stroke-width="2.2" stroke-linejoin="round"/>
<polyline points="1105.5,660.4 1129.9,648.2" fill="none" stroke="#1fe6ee" stroke-width="2.2" stroke-linejoin="round"/>
<polyline points="1105.5,666.4 1129.9,654.2" fill="none" stroke="#1fe6ee" stroke-width="2.2" stroke-linejoin="round"/>
<path d="M1061.8,677.3 A3.4,7.6 -12 0 1 1063.8,692.3" fill="none" stroke="#1fe6ee" stroke-width="2.3"/>
<path d="M1067.3,674.5 A3.4,7.6 -12 0 1 1069.3,689.5" fill="none" stroke="#1fe6ee" stroke-width="2.3"/>
<path d="M1072.8,671.8 A3.4,7.6 -12 0 1 1074.8,686.8" fill="none" stroke="#1fe6ee" stroke-width="2.3"/>
<path d="M1078.4,669.0 A3.4,7.6 -12 0 1 1080.4,684.0" fill="none" stroke="#1fe6ee" stroke-width="2.3"/>
<path d="M1083.9,666.2 A3.4,7.6 -12 0 1 1085.9,681.2" fill="none" stroke="#1fe6ee" stroke-width="2.3"/>
<path d="M1089.4,663.5 A3.4,7.6 -12 0 1 1091.4,678.5" fill="none" stroke="#1fe6ee" stroke-width="2.3"/>
<path d="M1094.9,660.7 A3.4,7.6 -12 0 1 1096.9,675.7" fill="none" stroke="#1fe6ee" stroke-width="2.3"/>
<path d="M1100.5,657.9 A3.4,7.6 -12 0 1 1102.5,672.9" fill="none" stroke="#1fe6ee" stroke-width="2.3"/>
<path d="M1106.0,655.2 A3.4,7.6 -12 0 1 1108.0,670.2" fill="none" stroke="#1fe6ee" stroke-width="2.3"/>
<ellipse cx="1062.8" cy="684.8" rx="3.6" ry="8.6" fill="none" stroke="#1fe6ee" stroke-width="3.2" transform="rotate(-12 1062.8 684.8)"/>
<ellipse cx="1107.0" cy="662.7" rx="3.6" ry="8.6" fill="none" stroke="#1fe6ee" stroke-width="3.2" transform="rotate(-12 1107.0 662.7)"/>
<polyline points="1062.8,677.0 1107.0,654.9" fill="none" stroke="#1fe6ee" stroke-width="2.0" stroke-linejoin="round"/>
<polyline points="1062.8,692.6 1107.0,670.5" fill="none" stroke="#1fe6ee" stroke-width="2.8" stroke-linejoin="round"/>
<path d="M1127.8,644.3 A3.4,7.6 -12 0 1 1129.8,659.3" fill="none" stroke="#1fe6ee" stroke-width="2.3"/>
<path d="M1133.5,641.4 A3.4,7.6 -12 0 1 1135.5,656.4" fill="none" stroke="#1fe6ee" stroke-width="2.3"/>
<path d="M1139.3,638.6 A3.4,7.6 -12 0 1 1141.3,653.6" fill="none" stroke="#1fe6ee" stroke-width="2.3"/>
<path d="M1145.0,635.7 A3.4,7.6 -12 0 1 1147.0,650.7" fill="none" stroke="#1fe6ee" stroke-width="2.3"/>
<path d="M1150.7,632.8 A3.4,7.6 -12 0 1 1152.7,647.8" fill="none" stroke="#1fe6ee" stroke-width="2.3"/>
<path d="M1156.4,630.0 A3.4,7.6 -12 0 1 1158.4,645.0" fill="none" stroke="#1fe6ee" stroke-width="2.3"/>
<path d="M1162.1,627.1 A3.4,7.6 -12 0 1 1164.1,642.1" fill="none" stroke="#1fe6ee" stroke-width="2.3"/>
<path d="M1167.9,624.3 A3.4,7.6 -12 0 1 1169.9,639.3" fill="none" stroke="#1fe6ee" stroke-width="2.3"/>
<path d="M1173.6,621.4 A3.4,7.6 -12 0 1 1175.6,636.4" fill="none" stroke="#1fe6ee" stroke-width="2.3"/>
<ellipse cx="1128.8" cy="651.8" rx="3.6" ry="8.6" fill="none" stroke="#1fe6ee" stroke-width="3.2" transform="rotate(-12 1128.8 651.8)"/>
<ellipse cx="1174.6" cy="628.9" rx="3.6" ry="8.6" fill="none" stroke="#1fe6ee" stroke-width="3.2" transform="rotate(-12 1174.6 628.9)"/>
<polyline points="1128.8,644.0 1174.6,621.1" fill="none" stroke="#1fe6ee" stroke-width="2.0" stroke-linejoin="round"/>
<polyline points="1128.8,659.6 1174.6,636.7" fill="none" stroke="#1fe6ee" stroke-width="2.8" stroke-linejoin="round"/>
<line x1="1044.5" y1="694.0" x2="1062.8" y2="684.8" stroke="#c0392b" stroke-width="1"/>
<line x1="1174.6" y1="628.9" x2="1197.0" y2="617.7" stroke="#c0392b" stroke-width="1"/>
<line x1="1107.0" y1="662.7" x2="1128.8" y2="651.8" stroke="#c0392b" stroke-width="1"/>
<line x1="1197.0" y1="617.7" x2="1214.4" y2="609.0" stroke="#444" stroke-width="1" stroke-dasharray="6 3"/>
<ellipse cx="1214.4" cy="609.0" rx="4" ry="7" fill="none" stroke="#1fe6ee" stroke-width="2"/>
<line x1="992.2" y1="720.1" x2="1044.5" y2="694.0" stroke="#c0392b" stroke-width="1.1" stroke-dasharray="16 4 3 4"/>
<polygon points="1201.6,810.6 1207.6,825.7 1198.0,852.4 1188.9,834.2" fill="#fff" stroke="#1fe6ee" stroke-width="2.2" stroke-linejoin="round"/>
<ellipse cx="1199.2" cy="831.2" rx="4.2" ry="7.2" fill="none" stroke="#1fe6ee" stroke-width="2"/>
<polygon points="1356.3,730.0 1362.3,745.1 1352.7,771.8 1343.6,753.6" fill="#fff" stroke="#1fe6ee" stroke-width="2.2" stroke-linejoin="round"/>
<ellipse cx="1353.9" cy="750.6" rx="4.2" ry="7.2" fill="none" stroke="#1fe6ee" stroke-width="2"/>
<polyline points="1198.0,852.4 1349.9,774.6" fill="none" stroke="#1fe6ee" stroke-width="2.2" stroke-linejoin="round"/>
<polyline points="1205.2,840.2 1347.9,764.6" fill="none" stroke="#1fe6ee" stroke-width="2.2" stroke-linejoin="round"/>
<polyline points="1207.6,825.7 1343.9,753.6" fill="none" stroke="#1fe6ee" stroke-width="3.2" stroke-linejoin="round"/>
<polyline points="1362.3,745.1 1349.9,774.6" fill="none" stroke="#1fe6ee" stroke-width="2.2" stroke-linejoin="round"/>
<polyline points="1261.1,796.0 1285.8,783.1" fill="none" stroke="#1fe6ee" stroke-width="2.2" stroke-linejoin="round"/>
<polyline points="1261.1,802.0 1285.8,789.1" fill="none" stroke="#1fe6ee" stroke-width="2.2" stroke-linejoin="round"/>
<path d="M1216.8,814.1 A3.4,7.6 -12 0 1 1218.8,829.1" fill="none" stroke="#1fe6ee" stroke-width="2.3"/>
<path d="M1222.4,811.1 A3.4,7.6 -12 0 1 1224.4,826.1" fill="none" stroke="#1fe6ee" stroke-width="2.3"/>
<path d="M1228.0,808.2 A3.4,7.6 -12 0 1 1230.0,823.2" fill="none" stroke="#1fe6ee" stroke-width="2.3"/>
<path d="M1233.6,805.3 A3.4,7.6 -12 0 1 1235.6,820.3" fill="none" stroke="#1fe6ee" stroke-width="2.3"/>
<path d="M1239.2,802.4 A3.4,7.6 -12 0 1 1241.2,817.4" fill="none" stroke="#1fe6ee" stroke-width="2.3"/>
<path d="M1244.8,799.5 A3.4,7.6 -12 0 1 1246.8,814.5" fill="none" stroke="#1fe6ee" stroke-width="2.3"/>
<path d="M1250.4,796.5 A3.4,7.6 -12 0 1 1252.4,811.5" fill="none" stroke="#1fe6ee" stroke-width="2.3"/>
<path d="M1256.0,793.6 A3.4,7.6 -12 0 1 1258.0,808.6" fill="none" stroke="#1fe6ee" stroke-width="2.3"/>
<path d="M1261.6,790.7 A3.4,7.6 -12 0 1 1263.6,805.7" fill="none" stroke="#1fe6ee" stroke-width="2.3"/>
<ellipse cx="1217.8" cy="821.6" rx="3.6" ry="8.6" fill="none" stroke="#1fe6ee" stroke-width="3.2" transform="rotate(-12 1217.8 821.6)"/>
<ellipse cx="1262.6" cy="798.2" rx="3.6" ry="8.6" fill="none" stroke="#1fe6ee" stroke-width="3.2" transform="rotate(-12 1262.6 798.2)"/>
<polyline points="1217.8,813.8 1262.6,790.4" fill="none" stroke="#1fe6ee" stroke-width="2.0" stroke-linejoin="round"/>
<polyline points="1217.8,829.4 1262.6,806.0" fill="none" stroke="#1fe6ee" stroke-width="2.8" stroke-linejoin="round"/>
<path d="M1283.7,779.2 A3.4,7.6 -12 0 1 1285.7,794.2" fill="none" stroke="#1fe6ee" stroke-width="2.3"/>
<path d="M1289.5,776.1 A3.4,7.6 -12 0 1 1291.5,791.1" fill="none" stroke="#1fe6ee" stroke-width="2.3"/>
<path d="M1295.4,773.1 A3.4,7.6 -12 0 1 1297.4,788.1" fill="none" stroke="#1fe6ee" stroke-width="2.3"/>
<path d="M1301.2,770.1 A3.4,7.6 -12 0 1 1303.2,785.1" fill="none" stroke="#1fe6ee" stroke-width="2.3"/>
<path d="M1307.0,767.1 A3.4,7.6 -12 0 1 1309.0,782.1" fill="none" stroke="#1fe6ee" stroke-width="2.3"/>
<path d="M1312.8,764.0 A3.4,7.6 -12 0 1 1314.8,779.0" fill="none" stroke="#1fe6ee" stroke-width="2.3"/>
<path d="M1318.6,761.0 A3.4,7.6 -12 0 1 1320.6,776.0" fill="none" stroke="#1fe6ee" stroke-width="2.3"/>
<path d="M1324.4,758.0 A3.4,7.6 -12 0 1 1326.4,773.0" fill="none" stroke="#1fe6ee" stroke-width="2.3"/>
<path d="M1330.2,755.0 A3.4,7.6 -12 0 1 1332.2,770.0" fill="none" stroke="#1fe6ee" stroke-width="2.3"/>
<ellipse cx="1284.7" cy="786.7" rx="3.6" ry="8.6" fill="none" stroke="#1fe6ee" stroke-width="3.2" transform="rotate(-12 1284.7 786.7)"/>
<ellipse cx="1331.2" cy="762.5" rx="3.6" ry="8.6" fill="none" stroke="#1fe6ee" stroke-width="3.2" transform="rotate(-12 1331.2 762.5)"/>
<polyline points="1284.7,778.9 1331.2,754.7" fill="none" stroke="#1fe6ee" stroke-width="2.0" stroke-linejoin="round"/>
<polyline points="1284.7,794.5 1331.2,770.3" fill="none" stroke="#1fe6ee" stroke-width="2.8" stroke-linejoin="round"/>
<line x1="1199.2" y1="831.2" x2="1217.8" y2="821.6" stroke="#c0392b" stroke-width="1"/>
<line x1="1331.2" y1="762.5" x2="1353.9" y2="750.6" stroke="#c0392b" stroke-width="1"/>
<line x1="1262.6" y1="798.2" x2="1284.7" y2="786.7" stroke="#c0392b" stroke-width="1"/>
<line x1="1353.9" y1="750.6" x2="1380.1" y2="737.5" stroke="#444" stroke-width="1" stroke-dasharray="6 3"/>
<ellipse cx="1380.1" cy="737.5" rx="4" ry="7" fill="none" stroke="#1fe6ee" stroke-width="2"/>
<line x1="1164.3" y1="848.7" x2="1199.2" y2="831.2" stroke="#c0392b" stroke-width="1.1" stroke-dasharray="16 4 3 4"/>
<polygon points="1242.2,1012.7 1242.2,1030.7 1272.2,1047.7 1272.2,1029.7" fill="#fff" stroke="#1fe6ee" stroke-width="2.2" stroke-linejoin="round"/>
<polyline points="1242.2,1012.7 1381.7,941.8 1395.7,950.8" fill="none" stroke="#1fe6ee" stroke-width="2.6" stroke-linejoin="round"/>
<polyline points="1272.2,1029.7 1395.7,950.8" fill="none" stroke="#1fe6ee" stroke-width="3.2" stroke-linejoin="round"/>
<polyline points="1272.2,1045.7 1391.7,971.8" fill="none" stroke="#1fe6ee" stroke-width="2.2" stroke-linejoin="round"/>
<polygon points="1398.7,950.8 1411.7,957.3 1411.7,975.5 1398.7,968.2" fill="#fff" stroke="#1fe6ee" stroke-width="2.2" stroke-linejoin="round"/>
<ellipse cx="1260.2" cy="1031.7" rx="4.2" ry="7.2" fill="none" stroke="#1fe6ee" stroke-width="2"/>
<ellipse cx="1399.7" cy="959.8" rx="4.2" ry="7.2" fill="none" stroke="#1fe6ee" stroke-width="2"/>
<polyline points="1316.0,1000.0 1338.3,988.5" fill="none" stroke="#1fe6ee" stroke-width="2.2" stroke-linejoin="round"/>
<polyline points="1316.0,1006.0 1338.3,994.5" fill="none" stroke="#1fe6ee" stroke-width="2.2" stroke-linejoin="round"/>
<path d="M1275.9,1015.6 A3.4,7.6 -12 0 1 1277.9,1030.6" fill="none" stroke="#1fe6ee" stroke-width="2.3"/>
<path d="M1281.0,1013.0 A3.4,7.6 -12 0 1 1283.0,1028.0" fill="none" stroke="#1fe6ee" stroke-width="2.3"/>
<path d="M1286.1,1010.4 A3.4,7.6 -12 0 1 1288.1,1025.4" fill="none" stroke="#1fe6ee" stroke-width="2.3"/>
<path d="M1291.1,1007.8 A3.4,7.6 -12 0 1 1293.1,1022.8" fill="none" stroke="#1fe6ee" stroke-width="2.3"/>
<path d="M1296.2,1005.2 A3.4,7.6 -12 0 1 1298.2,1020.2" fill="none" stroke="#1fe6ee" stroke-width="2.3"/>
<path d="M1301.2,1002.6 A3.4,7.6 -12 0 1 1303.2,1017.6" fill="none" stroke="#1fe6ee" stroke-width="2.3"/>
<path d="M1306.3,1000.0 A3.4,7.6 -12 0 1 1308.3,1015.0" fill="none" stroke="#1fe6ee" stroke-width="2.3"/>
<path d="M1311.3,997.4 A3.4,7.6 -12 0 1 1313.3,1012.4" fill="none" stroke="#1fe6ee" stroke-width="2.3"/>
<path d="M1316.4,994.7 A3.4,7.6 -12 0 1 1318.4,1009.7" fill="none" stroke="#1fe6ee" stroke-width="2.3"/>
<ellipse cx="1276.9" cy="1023.1" rx="3.6" ry="8.6" fill="none" stroke="#1fe6ee" stroke-width="3.2" transform="rotate(-12 1276.9 1023.1)"/>
<ellipse cx="1317.4" cy="1002.2" rx="3.6" ry="8.6" fill="none" stroke="#1fe6ee" stroke-width="3.2" transform="rotate(-12 1317.4 1002.2)"/>
<polyline points="1276.9,1015.3 1317.4,994.4" fill="none" stroke="#1fe6ee" stroke-width="2.0" stroke-linejoin="round"/>
<polyline points="1276.9,1030.9 1317.4,1010.0" fill="none" stroke="#1fe6ee" stroke-width="2.8" stroke-linejoin="round"/>
<path d="M1336.3,984.5 A3.4,7.6 -12 0 1 1338.3,999.5" fill="none" stroke="#1fe6ee" stroke-width="2.3"/>
<path d="M1341.6,981.8 A3.4,7.6 -12 0 1 1343.6,996.8" fill="none" stroke="#1fe6ee" stroke-width="2.3"/>
<path d="M1346.8,979.1 A3.4,7.6 -12 0 1 1348.8,994.1" fill="none" stroke="#1fe6ee" stroke-width="2.3"/>
<path d="M1352.0,976.4 A3.4,7.6 -12 0 1 1354.0,991.4" fill="none" stroke="#1fe6ee" stroke-width="2.3"/>
<path d="M1357.2,973.7 A3.4,7.6 -12 0 1 1359.2,988.7" fill="none" stroke="#1fe6ee" stroke-width="2.3"/>
<path d="M1362.5,971.0 A3.4,7.6 -12 0 1 1364.5,986.0" fill="none" stroke="#1fe6ee" stroke-width="2.3"/>
<path d="M1367.7,968.3 A3.4,7.6 -12 0 1 1369.7,983.3" fill="none" stroke="#1fe6ee" stroke-width="2.3"/>
<path d="M1372.9,965.6 A3.4,7.6 -12 0 1 1374.9,980.6" fill="none" stroke="#1fe6ee" stroke-width="2.3"/>
<path d="M1378.2,962.9 A3.4,7.6 -12 0 1 1380.2,977.9" fill="none" stroke="#1fe6ee" stroke-width="2.3"/>
<ellipse cx="1337.3" cy="992.0" rx="3.6" ry="8.6" fill="none" stroke="#1fe6ee" stroke-width="3.2" transform="rotate(-12 1337.3 992.0)"/>
<ellipse cx="1379.2" cy="970.4" rx="3.6" ry="8.6" fill="none" stroke="#1fe6ee" stroke-width="3.2" transform="rotate(-12 1379.2 970.4)"/>
<polyline points="1337.3,984.2 1379.2,962.6" fill="none" stroke="#1fe6ee" stroke-width="2.0" stroke-linejoin="round"/>
<polyline points="1337.3,999.8 1379.2,978.2" fill="none" stroke="#1fe6ee" stroke-width="2.8" stroke-linejoin="round"/>
<line x1="1260.2" y1="1031.7" x2="1276.9" y2="1023.1" stroke="#c0392b" stroke-width="1"/>
<line x1="1379.2" y1="970.4" x2="1399.7" y2="959.8" stroke="#c0392b" stroke-width="1"/>
<line x1="1317.4" y1="1002.2" x2="1337.3" y2="992.0" stroke="#c0392b" stroke-width="1"/>
<line x1="1399.7" y1="959.8" x2="1430.2" y2="944.6" stroke="#444" stroke-width="1" stroke-dasharray="6 3"/>
<ellipse cx="1430.2" cy="944.6" rx="4" ry="7" fill="none" stroke="#1fe6ee" stroke-width="2"/>
<line x1="1212.3" y1="1055.7" x2="1260.2" y2="1031.7" stroke="#c0392b" stroke-width="1.1" stroke-dasharray="16 4 3 4"/>
<path d="M902.7,2001.3 C924.8,2011.8 1000.4,2047.0 1035.6,2064.5 C1070.9,2081.9 1090.8,2091.0 1114.1,2105.9 C1137.3,2120.8 1157.7,2135.6 1175.1,2153.8 C1192.5,2172.0 1207.1,2194.5 1218.7,2214.8 C1230.3,2235.2 1239.0,2258.4 1244.8,2275.8 C1250.6,2293.3 1252.1,2301.3 1253.5,2319.4 C1255.0,2337.6 1253.5,2373.9 1253.5,2384.8" fill="none" stroke="#1fe6ee" stroke-width="2.4" stroke-linecap="round"/>
<polyline points="1253.5,2384.8 1253.5,2572.2" fill="none" stroke="#1fe6ee" stroke-width="2.4" stroke-linejoin="round" stroke-linecap="round" />
<path d="M889.6,2007.8 C912.5,2018.3 990.2,2053.2 1026.9,2071.0 C1063.6,2088.8 1085.7,2099.3 1109.7,2114.6 C1133.7,2129.8 1154.0,2145.1 1170.7,2162.5 C1187.4,2180.0 1199.1,2199.6 1210.0,2219.2 C1220.9,2238.8 1230.7,2262.8 1236.1,2280.2 C1241.6,2297.6 1241.6,2306.4 1242.6,2323.8 C1243.7,2341.2 1242.6,2374.6 1242.6,2384.8" fill="none" stroke="#1fe6ee" stroke-width="2.4" stroke-linecap="round"/>
<polyline points="1242.6,2384.8 1242.6,2576.6" fill="none" stroke="#1fe6ee" stroke-width="2.4" stroke-linejoin="round" stroke-linecap="round" />
<path d="M889.6,2062.3 C903.1,2068.8 943.0,2087.7 970.2,2101.5 C997.5,2115.3 1029.1,2130.6 1053.1,2145.1 C1077.0,2159.6 1096.6,2172.7 1114.1,2188.7 C1131.5,2204.7 1147.1,2222.8 1157.7,2241.0 C1168.2,2259.1 1172.9,2277.3 1177.3,2297.6 C1181.6,2318.0 1182.7,2344.9 1183.8,2363.0 C1184.9,2381.2 1183.8,2399.3 1183.8,2406.6" fill="none" stroke="#1fe6ee" stroke-width="2.4" stroke-linecap="round"/>
<polyline points="1183.8,2406.6 1183.8,2541.7" fill="none" stroke="#1fe6ee" stroke-width="2.4" stroke-linejoin="round" stroke-linecap="round" />
<polyline points="1183.8,2541.7 1189.0,2541.7 1242.6,2576.6 1253.5,2572.2" fill="none" stroke="#1fe6ee" stroke-width="2.4" stroke-linejoin="round" stroke-linecap="round" />
<path d="M889.6,2007.8 C888.9,2008.5 885.8,2010.7 885.3,2012.2 C884.7,2013.6 885.8,2015.3 886.6,2016.5 C887.3,2017.8 889.1,2019.1 889.6,2019.6" fill="none" stroke="#1fe6ee" stroke-width="2.4" stroke-linecap="round"/>
<polyline points="889.6,2019.6 889.6,2057.9" fill="none" stroke="#1fe6ee" stroke-width="2.4" stroke-linejoin="round" stroke-linecap="round" />
<polyline points="902.7,2001.3 889.6,2007.8" fill="none" stroke="#1fe6ee" stroke-width="2.4" stroke-linejoin="round" stroke-linecap="round" />
<polyline points="889.6,2020.4 976.8,2061.4" fill="none" stroke="#1fe6ee" stroke-width="2.2" stroke-linejoin="round" stroke-linecap="round" />
<polyline points="900.5,2061.4 934.5,2077.5" fill="none" stroke="#1fe6ee" stroke-width="3.2" stroke-linejoin="round" stroke-linecap="round" />
<ellipse cx="909.2" cy="2044.8" rx="6" ry="6" fill="none" stroke="#1fe6ee" stroke-width="2.4"/>
<ellipse cx="934.5" cy="2057.1" rx="6" ry="6" fill="none" stroke="#1fe6ee" stroke-width="2.4"/>
<polyline points="1188.2,2450.2 1188.2,2541.7" fill="none" stroke="#1fe6ee" stroke-width="3.2" stroke-linejoin="round" stroke-linecap="round" />
<polyline points="1238.3,2450.2 1238.3,2574.4" fill="none" stroke="#1fe6ee" stroke-width="3.2" stroke-linejoin="round" stroke-linecap="round" />
<ellipse cx="1212.1" cy="2477.2" rx="5.7" ry="9.5" fill="none" stroke="#1fe6ee" stroke-width="2.6"/>
<ellipse cx="1212.1" cy="2520.8" rx="5.7" ry="9.5" fill="none" stroke="#1fe6ee" stroke-width="2.6"/>
<ellipse cx="976.8" cy="2094.1" rx="4" ry="6.5" fill="none" stroke="#1fe6ee" stroke-width="2"/>
<ellipse cx="935.4" cy="2113.7" rx="8.5" ry="10.5" fill="#1fe6ee" transform="rotate(25 935.4 2113.7)"/><ellipse cx="938.4" cy="2112.7" rx="1.6" ry="3.2" fill="#fff"/>
<line x1="935.4" y1="2113.7" x2="976.8" y2="2094.1" stroke="#c0392b" stroke-width="1.1" stroke-dasharray="14 4 3 4"/>
<ellipse cx="1164.2" cy="2241.0" rx="4" ry="6.5" fill="none" stroke="#1fe6ee" stroke-width="2"/>
<ellipse cx="1119.7" cy="2261.9" rx="8.5" ry="10.5" fill="#1fe6ee" transform="rotate(25 1119.7 2261.9)"/><ellipse cx="1122.7" cy="2260.9" rx="1.6" ry="3.2" fill="#fff"/>
<line x1="1119.7" y1="2261.9" x2="1164.2" y2="2241.0" stroke="#c0392b" stroke-width="1.1" stroke-dasharray="14 4 3 4"/>
<ellipse cx="1201.2" cy="2426.2" rx="4.5" ry="7" fill="none" stroke="#1fe6ee" stroke-width="2"/>
<ellipse cx="1161.1" cy="2445.0" rx="8.5" ry="10.5" fill="#1fe6ee" transform="rotate(25 1161.1 2445.0)"/><ellipse cx="1164.1" cy="2444.0" rx="1.6" ry="3.2" fill="#fff"/>
<line x1="1161.1" y1="2445.0" x2="1201.2" y2="2426.2" stroke="#c0392b" stroke-width="1.1" stroke-dasharray="14 4 3 4"/>
<path d="M1177.3,1864.0 C1206.0,1876.7 1309.8,1921.7 1349.4,1940.2 C1389.0,1958.8 1395.2,1961.3 1414.8,1975.1 C1434.4,1988.9 1452.6,2004.9 1467.1,2023.1 C1481.6,2041.2 1492.9,2062.3 1502.0,2084.1 C1511.1,2105.9 1517.6,2132.7 1521.6,2153.8 C1525.6,2174.9 1525.2,2193.8 1525.9,2210.5 C1526.7,2227.2 1525.9,2246.8 1525.9,2254.1" fill="none" stroke="#1fe6ee" stroke-width="2.4" stroke-linecap="round"/>
<polyline points="1525.9,2254.1 1525.9,2430.6" fill="none" stroke="#1fe6ee" stroke-width="2.4" stroke-linejoin="round" stroke-linecap="round" />
<path d="M1170.7,1871.4 C1199.1,1884.3 1301.5,1930.2 1340.7,1949.0 C1379.9,1967.7 1386.8,1970.0 1406.1,1983.8 C1425.3,1997.6 1442.4,2013.6 1456.2,2031.8 C1470.0,2049.9 1480.2,2071.7 1488.9,2092.8 C1497.6,2113.9 1504.3,2137.8 1508.5,2158.2 C1512.7,2178.5 1513.2,2198.1 1514.2,2214.8 C1515.1,2231.5 1514.2,2251.1 1514.2,2258.4" fill="none" stroke="#1fe6ee" stroke-width="3.2" stroke-linecap="round"/>
<polyline points="1514.2,2258.4 1514.2,2434.9" fill="none" stroke="#1fe6ee" stroke-width="3.2" stroke-linejoin="round" stroke-linecap="round" />
<path d="M1514.2,2434.9 C1515.4,2434.7 1519.6,2434.3 1521.6,2433.6 C1523.5,2432.9 1525.2,2431.1 1525.9,2430.6" fill="none" stroke="#1fe6ee" stroke-width="2.4" stroke-linecap="round"/>
<path d="M1170.7,1871.4 C1169.6,1870.7 1164.6,1868.5 1164.2,1867.0 C1163.8,1865.6 1166.4,1863.2 1168.6,1862.7 C1170.7,1862.2 1175.8,1863.8 1177.3,1864.0" fill="none" stroke="#1fe6ee" stroke-width="2.4" stroke-linecap="round"/>
<polyline points="1170.7,1879.2 1170.7,1927.2" fill="none" stroke="#1fe6ee" stroke-width="2.4" stroke-linejoin="round" stroke-linecap="round" />
<polyline points="1166.4,1929.3 1231.8,1959.9" fill="none" stroke="#1fe6ee" stroke-width="3.0" stroke-linejoin="round" stroke-linecap="round" />
<polyline points="1170.7,1879.2 1240.5,1911.9" fill="none" stroke="#1fe6ee" stroke-width="2.0" stroke-linejoin="round" stroke-linecap="round" />
<polyline points="1177.3,1922.8 1253.5,1946.8" fill="none" stroke="#1fe6ee" stroke-width="3.0" stroke-linejoin="round" stroke-linecap="round" />
<path d="M1253.5,1967.3 C1263.1,1972.1 1292.6,1984.6 1311.1,1996.0 C1329.6,2007.5 1349.0,2021.5 1364.7,2036.1 C1380.4,2050.8 1393.1,2066.6 1405.2,2084.1 C1417.3,2101.5 1428.6,2119.7 1437.5,2140.7 C1446.3,2161.8 1453.7,2187.9 1458.4,2210.5 C1463.0,2233.0 1464.1,2257.7 1465.4,2275.8 C1466.7,2294.0 1466.1,2312.2 1466.2,2319.4" fill="none" stroke="#1fe6ee" stroke-width="2.4" stroke-linecap="round"/>
<polyline points="1466.2,2319.4 1466.2,2403.1" fill="none" stroke="#1fe6ee" stroke-width="2.4" stroke-linejoin="round" stroke-linecap="round" />
<path d="M1253.5,1974.2 C1262.4,1978.9 1289.3,1990.9 1306.7,2002.1 C1324.1,2013.3 1343.2,2027.0 1358.1,2041.4 C1373.1,2055.7 1384.9,2071.1 1396.5,2088.4 C1408.1,2105.7 1419.4,2124.0 1427.9,2145.1 C1436.4,2166.2 1443.2,2193.0 1447.5,2214.8 C1451.8,2236.6 1452.4,2258.4 1453.6,2275.8 C1454.8,2293.3 1454.3,2312.2 1454.5,2319.4" fill="none" stroke="#1fe6ee" stroke-width="2.4" stroke-linecap="round"/>
<polyline points="1454.5,2319.4 1454.5,2406.6 1465.4,2402.7" fill="none" stroke="#1fe6ee" stroke-width="2.4" stroke-linejoin="round" stroke-linecap="round" />
<polyline points="1466.7,2405.7 1508.9,2427.5 1514.2,2433.6" fill="none" stroke="#1fe6ee" stroke-width="2.4" stroke-linejoin="round" stroke-linecap="round" />
<polyline points="1466.2,2328.1 1466.2,2403.1" fill="none" stroke="#1fe6ee" stroke-width="3.4" stroke-linejoin="round" stroke-linecap="round" />
<polyline points="1508.5,2310.7 1508.5,2433.6" fill="none" stroke="#1fe6ee" stroke-width="3.2" stroke-linejoin="round" stroke-linecap="round" />
<ellipse cx="1488.9" cy="2339.9" rx="6" ry="9.5" fill="none" stroke="#1fe6ee" stroke-width="2.6"/>
<ellipse cx="1488.9" cy="2383.5" rx="6" ry="9.5" fill="none" stroke="#1fe6ee" stroke-width="2.6"/>
<ellipse cx="1188.2" cy="1907.6" rx="6" ry="6" fill="none" stroke="#1fe6ee" stroke-width="2.4"/>
<ellipse cx="1213.0" cy="1919.3" rx="6" ry="6" fill="none" stroke="#1fe6ee" stroke-width="2.4"/>
<ellipse cx="1338.5" cy="1914.1" rx="8" ry="10" fill="none" stroke="#1fe6ee" stroke-width="3" transform="rotate(-20 1338.5 1914.1)"/><ellipse cx="1337.5" cy="1914.1" rx="4" ry="6" fill="none" stroke="#1fe6ee" stroke-width="2.2" transform="rotate(-20 1338.5 1914.1)"/>
<line x1="1309.3" y1="1928.0" x2="1336.4" y2="1915.0" stroke="#c0392b" stroke-width="1.1" stroke-dasharray="14 4 3 4"/>
<ellipse cx="1512.9" cy="2063.2" rx="8" ry="10" fill="none" stroke="#1fe6ee" stroke-width="3" transform="rotate(-20 1512.9 2063.2)"/><ellipse cx="1511.9" cy="2063.2" rx="4" ry="6" fill="none" stroke="#1fe6ee" stroke-width="2.2" transform="rotate(-20 1512.9 2063.2)"/>
<line x1="1491.1" y1="2074.0" x2="1510.7" y2="2064.0" stroke="#c0392b" stroke-width="1.1" stroke-dasharray="14 4 3 4"/>
<ellipse cx="1552.1" cy="2251.9" rx="8" ry="10" fill="none" stroke="#1fe6ee" stroke-width="3" transform="rotate(-20 1552.1 2251.9)"/><ellipse cx="1551.1" cy="2251.9" rx="4" ry="6" fill="none" stroke="#1fe6ee" stroke-width="2.2" transform="rotate(-20 1552.1 2251.9)"/>
<line x1="1527.3" y1="2263.6" x2="1549.9" y2="2252.7" stroke="#c0392b" stroke-width="1.1" stroke-dasharray="14 4 3 4"/>
<polygon points="1079.4,2023.0 1096.4,2032.0 1096.4,2064.1 1079.4,2056.3" fill="#fff" stroke="#1fe6ee" stroke-width="2.2" stroke-linejoin="round"/>
<ellipse cx="1087.9" cy="2040.5" rx="4.2" ry="7.2" fill="none" stroke="#1fe6ee" stroke-width="2"/>
<polygon points="1232.0,1944.5 1249.0,1953.5 1249.0,1985.6 1232.0,1977.8" fill="#fff" stroke="#1fe6ee" stroke-width="2.2" stroke-linejoin="round"/>
<ellipse cx="1240.5" cy="1962.0" rx="4.2" ry="7.2" fill="none" stroke="#1fe6ee" stroke-width="2"/>
<polyline points="1096.4,2064.1 1248.5,1986.3" fill="none" stroke="#1fe6ee" stroke-width="2.2" stroke-linejoin="round"/>
<polyline points="1096.4,2045.5 1232.0,1974.5" fill="none" stroke="#1fe6ee" stroke-width="3.2" stroke-linejoin="round"/>
<polyline points="1096.4,2032.0 1232.0,1961.0" fill="none" stroke="#1fe6ee" stroke-width="2" stroke-linejoin="round"/>
<polyline points="1249.0,1953.5 1249.0,1986.3" fill="none" stroke="#1fe6ee" stroke-width="2.2" stroke-linejoin="round"/>
<polyline points="1148.9,2006.1 1173.3,1993.6" fill="none" stroke="#1fe6ee" stroke-width="2.2" stroke-linejoin="round"/>
<polyline points="1148.9,2012.1 1173.3,1999.6" fill="none" stroke="#1fe6ee" stroke-width="2.2" stroke-linejoin="round"/>
<path d="M1105.2,2023.6 A3.4,7.6 -12 0 1 1107.2,2038.6" fill="none" stroke="#1fe6ee" stroke-width="2.3"/>
<path d="M1110.8,2020.7 A3.4,7.6 -12 0 1 1112.8,2035.7" fill="none" stroke="#1fe6ee" stroke-width="2.3"/>
<path d="M1116.3,2017.9 A3.4,7.6 -12 0 1 1118.3,2032.9" fill="none" stroke="#1fe6ee" stroke-width="2.3"/>
<path d="M1121.8,2015.0 A3.4,7.6 -12 0 1 1123.8,2030.0" fill="none" stroke="#1fe6ee" stroke-width="2.3"/>
<path d="M1127.3,2012.2 A3.4,7.6 -12 0 1 1129.3,2027.2" fill="none" stroke="#1fe6ee" stroke-width="2.3"/>
<path d="M1132.9,2009.4 A3.4,7.6 -12 0 1 1134.9,2024.4" fill="none" stroke="#1fe6ee" stroke-width="2.3"/>
<path d="M1138.4,2006.5 A3.4,7.6 -12 0 1 1140.4,2021.5" fill="none" stroke="#1fe6ee" stroke-width="2.3"/>
<path d="M1143.9,2003.7 A3.4,7.6 -12 0 1 1145.9,2018.7" fill="none" stroke="#1fe6ee" stroke-width="2.3"/>
<path d="M1149.5,2000.8 A3.4,7.6 -12 0 1 1151.5,2015.8" fill="none" stroke="#1fe6ee" stroke-width="2.3"/>
<ellipse cx="1106.2" cy="2031.1" rx="3.6" ry="8.6" fill="none" stroke="#1fe6ee" stroke-width="3.2" transform="rotate(-12 1106.2 2031.1)"/>
<ellipse cx="1150.5" cy="2008.3" rx="3.6" ry="8.6" fill="none" stroke="#1fe6ee" stroke-width="3.2" transform="rotate(-12 1150.5 2008.3)"/>
<polyline points="1106.2,2023.3 1150.5,2000.5" fill="none" stroke="#1fe6ee" stroke-width="2.0" stroke-linejoin="round"/>
<polyline points="1106.2,2038.9 1150.5,2016.1" fill="none" stroke="#1fe6ee" stroke-width="2.8" stroke-linejoin="round"/>
<path d="M1171.3,1989.6 A3.4,7.6 -12 0 1 1173.3,2004.6" fill="none" stroke="#1fe6ee" stroke-width="2.3"/>
<path d="M1177.0,1986.7 A3.4,7.6 -12 0 1 1179.0,2001.7" fill="none" stroke="#1fe6ee" stroke-width="2.3"/>
<path d="M1182.7,1983.7 A3.4,7.6 -12 0 1 1184.7,1998.7" fill="none" stroke="#1fe6ee" stroke-width="2.3"/>
<path d="M1188.4,1980.8 A3.4,7.6 -12 0 1 1190.4,1995.8" fill="none" stroke="#1fe6ee" stroke-width="2.3"/>
<path d="M1194.2,1977.8 A3.4,7.6 -12 0 1 1196.2,1992.8" fill="none" stroke="#1fe6ee" stroke-width="2.3"/>
<path d="M1199.9,1974.9 A3.4,7.6 -12 0 1 1201.9,1989.9" fill="none" stroke="#1fe6ee" stroke-width="2.3"/>
<path d="M1205.6,1972.0 A3.4,7.6 -12 0 1 1207.6,1987.0" fill="none" stroke="#1fe6ee" stroke-width="2.3"/>
<path d="M1211.3,1969.0 A3.4,7.6 -12 0 1 1213.3,1984.0" fill="none" stroke="#1fe6ee" stroke-width="2.3"/>
<path d="M1217.0,1966.1 A3.4,7.6 -12 0 1 1219.0,1981.1" fill="none" stroke="#1fe6ee" stroke-width="2.3"/>
<ellipse cx="1172.3" cy="1997.1" rx="3.6" ry="8.6" fill="none" stroke="#1fe6ee" stroke-width="3.2" transform="rotate(-12 1172.3 1997.1)"/>
<ellipse cx="1218.0" cy="1973.6" rx="3.6" ry="8.6" fill="none" stroke="#1fe6ee" stroke-width="3.2" transform="rotate(-12 1218.0 1973.6)"/>
<polyline points="1172.3,1989.3 1218.0,1965.8" fill="none" stroke="#1fe6ee" stroke-width="2.0" stroke-linejoin="round"/>
<polyline points="1172.3,2004.9 1218.0,1981.4" fill="none" stroke="#1fe6ee" stroke-width="2.8" stroke-linejoin="round"/>
<line x1="1087.9" y1="2040.5" x2="1106.2" y2="2031.1" stroke="#c0392b" stroke-width="1"/>
<line x1="1218.0" y1="1973.6" x2="1240.5" y2="1962.0" stroke="#c0392b" stroke-width="1"/>
<line x1="1150.5" y1="2008.3" x2="1172.3" y2="1997.1" stroke="#c0392b" stroke-width="1"/>
<line x1="1240.5" y1="1962.0" x2="1257.9" y2="1954.2" stroke="#444" stroke-width="1" stroke-dasharray="6 3"/>
<ellipse cx="1257.9" cy="1954.2" rx="4" ry="7" fill="none" stroke="#1fe6ee" stroke-width="2"/>
<line x1="1035.6" y1="2064.5" x2="1087.9" y2="2040.5" stroke="#c0392b" stroke-width="1.1" stroke-dasharray="16 4 3 4"/>
<polygon points="1255.9,2174.6 1261.9,2189.7 1252.3,2216.4 1243.2,2198.2" fill="#fff" stroke="#1fe6ee" stroke-width="2.2" stroke-linejoin="round"/>
<ellipse cx="1253.5" cy="2195.2" rx="4.2" ry="7.2" fill="none" stroke="#1fe6ee" stroke-width="2"/>
<polygon points="1412.8,2094.0 1418.8,2109.1 1409.2,2135.8 1400.1,2117.6" fill="#fff" stroke="#1fe6ee" stroke-width="2.2" stroke-linejoin="round"/>
<ellipse cx="1410.4" cy="2114.6" rx="4.2" ry="7.2" fill="none" stroke="#1fe6ee" stroke-width="2"/>
<polyline points="1252.3,2216.4 1406.4,2138.6" fill="none" stroke="#1fe6ee" stroke-width="2.2" stroke-linejoin="round"/>
<polyline points="1259.5,2204.2 1404.4,2128.6" fill="none" stroke="#1fe6ee" stroke-width="2.2" stroke-linejoin="round"/>
<polyline points="1261.9,2189.7 1400.4,2117.6" fill="none" stroke="#1fe6ee" stroke-width="3.2" stroke-linejoin="round"/>
<polyline points="1418.8,2109.1 1406.4,2138.6" fill="none" stroke="#1fe6ee" stroke-width="2.2" stroke-linejoin="round"/>
<polyline points="1316.3,2160.0 1341.4,2147.1" fill="none" stroke="#1fe6ee" stroke-width="2.2" stroke-linejoin="round"/>
<polyline points="1316.3,2166.0 1341.4,2153.1" fill="none" stroke="#1fe6ee" stroke-width="2.2" stroke-linejoin="round"/>
<path d="M1271.4,2178.0 A3.4,7.6 -12 0 1 1273.4,2193.0" fill="none" stroke="#1fe6ee" stroke-width="2.3"/>
<path d="M1277.1,2175.1 A3.4,7.6 -12 0 1 1279.1,2190.1" fill="none" stroke="#1fe6ee" stroke-width="2.3"/>
<path d="M1282.7,2172.2 A3.4,7.6 -12 0 1 1284.7,2187.2" fill="none" stroke="#1fe6ee" stroke-width="2.3"/>
<path d="M1288.4,2169.3 A3.4,7.6 -12 0 1 1290.4,2184.3" fill="none" stroke="#1fe6ee" stroke-width="2.3"/>
<path d="M1294.1,2166.3 A3.4,7.6 -12 0 1 1296.1,2181.3" fill="none" stroke="#1fe6ee" stroke-width="2.3"/>
<path d="M1299.8,2163.4 A3.4,7.6 -12 0 1 1301.8,2178.4" fill="none" stroke="#1fe6ee" stroke-width="2.3"/>
<path d="M1305.5,2160.5 A3.4,7.6 -12 0 1 1307.5,2175.5" fill="none" stroke="#1fe6ee" stroke-width="2.3"/>
<path d="M1311.2,2157.6 A3.4,7.6 -12 0 1 1313.2,2172.6" fill="none" stroke="#1fe6ee" stroke-width="2.3"/>
<path d="M1316.9,2154.7 A3.4,7.6 -12 0 1 1318.9,2169.7" fill="none" stroke="#1fe6ee" stroke-width="2.3"/>
<ellipse cx="1272.4" cy="2185.5" rx="3.6" ry="8.6" fill="none" stroke="#1fe6ee" stroke-width="3.2" transform="rotate(-12 1272.4 2185.5)"/>
<ellipse cx="1317.9" cy="2162.2" rx="3.6" ry="8.6" fill="none" stroke="#1fe6ee" stroke-width="3.2" transform="rotate(-12 1317.9 2162.2)"/>
<polyline points="1272.4,2177.7 1317.9,2154.4" fill="none" stroke="#1fe6ee" stroke-width="2.0" stroke-linejoin="round"/>
<polyline points="1272.4,2193.3 1317.9,2170.0" fill="none" stroke="#1fe6ee" stroke-width="2.8" stroke-linejoin="round"/>
<path d="M1339.3,2143.1 A3.4,7.6 -12 0 1 1341.3,2158.1" fill="none" stroke="#1fe6ee" stroke-width="2.3"/>
<path d="M1345.2,2140.1 A3.4,7.6 -12 0 1 1347.2,2155.1" fill="none" stroke="#1fe6ee" stroke-width="2.3"/>
<path d="M1351.1,2137.1 A3.4,7.6 -12 0 1 1353.1,2152.1" fill="none" stroke="#1fe6ee" stroke-width="2.3"/>
<path d="M1357.0,2134.1 A3.4,7.6 -12 0 1 1359.0,2149.1" fill="none" stroke="#1fe6ee" stroke-width="2.3"/>
<path d="M1362.8,2131.0 A3.4,7.6 -12 0 1 1364.8,2146.0" fill="none" stroke="#1fe6ee" stroke-width="2.3"/>
<path d="M1368.7,2128.0 A3.4,7.6 -12 0 1 1370.7,2143.0" fill="none" stroke="#1fe6ee" stroke-width="2.3"/>
<path d="M1374.6,2125.0 A3.4,7.6 -12 0 1 1376.6,2140.0" fill="none" stroke="#1fe6ee" stroke-width="2.3"/>
<path d="M1380.5,2122.0 A3.4,7.6 -12 0 1 1382.5,2137.0" fill="none" stroke="#1fe6ee" stroke-width="2.3"/>
<path d="M1386.4,2118.9 A3.4,7.6 -12 0 1 1388.4,2133.9" fill="none" stroke="#1fe6ee" stroke-width="2.3"/>
<ellipse cx="1340.3" cy="2150.6" rx="3.6" ry="8.6" fill="none" stroke="#1fe6ee" stroke-width="3.2" transform="rotate(-12 1340.3 2150.6)"/>
<ellipse cx="1387.4" cy="2126.4" rx="3.6" ry="8.6" fill="none" stroke="#1fe6ee" stroke-width="3.2" transform="rotate(-12 1387.4 2126.4)"/>
<polyline points="1340.3,2142.8 1387.4,2118.6" fill="none" stroke="#1fe6ee" stroke-width="2.0" stroke-linejoin="round"/>
<polyline points="1340.3,2158.4 1387.4,2134.2" fill="none" stroke="#1fe6ee" stroke-width="2.8" stroke-linejoin="round"/>
<line x1="1253.5" y1="2195.2" x2="1272.4" y2="2185.5" stroke="#c0392b" stroke-width="1"/>
<line x1="1387.4" y1="2126.4" x2="1410.4" y2="2114.6" stroke="#c0392b" stroke-width="1"/>
<line x1="1317.9" y1="2162.2" x2="1340.3" y2="2150.6" stroke="#c0392b" stroke-width="1"/>
<line x1="1410.4" y1="2114.6" x2="1435.7" y2="2101.5" stroke="#444" stroke-width="1" stroke-dasharray="6 3"/>
<ellipse cx="1435.7" cy="2101.5" rx="4" ry="7" fill="none" stroke="#1fe6ee" stroke-width="2"/>
<line x1="1220.9" y1="2212.6" x2="1253.5" y2="2195.2" stroke="#c0392b" stroke-width="1.1" stroke-dasharray="16 4 3 4"/>
<polygon points="1285.7,2354.9 1285.7,2372.9 1315.7,2389.9 1315.7,2371.9" fill="#fff" stroke="#1fe6ee" stroke-width="2.2" stroke-linejoin="round"/>
<polyline points="1285.7,2354.9 1426.4,2287.5 1440.4,2296.5" fill="none" stroke="#1fe6ee" stroke-width="2.6" stroke-linejoin="round"/>
<polyline points="1315.7,2371.9 1440.4,2296.5" fill="none" stroke="#1fe6ee" stroke-width="3.2" stroke-linejoin="round"/>
<polyline points="1315.7,2387.9 1436.4,2317.5" fill="none" stroke="#1fe6ee" stroke-width="2.2" stroke-linejoin="round"/>
<polygon points="1443.4,2296.5 1456.4,2303.0 1456.4,2321.2 1443.4,2313.9" fill="#fff" stroke="#1fe6ee" stroke-width="2.2" stroke-linejoin="round"/>
<ellipse cx="1303.7" cy="2373.9" rx="4.2" ry="7.2" fill="none" stroke="#1fe6ee" stroke-width="2"/>
<ellipse cx="1444.4" cy="2305.5" rx="4.2" ry="7.2" fill="none" stroke="#1fe6ee" stroke-width="2"/>
<polyline points="1360.0,2343.5 1382.5,2332.6" fill="none" stroke="#1fe6ee" stroke-width="2.2" stroke-linejoin="round"/>
<polyline points="1360.0,2349.5 1382.5,2338.6" fill="none" stroke="#1fe6ee" stroke-width="2.2" stroke-linejoin="round"/>
<path d="M1319.6,2358.2 A3.4,7.6 -12 0 1 1321.6,2373.2" fill="none" stroke="#1fe6ee" stroke-width="2.3"/>
<path d="M1324.7,2355.7 A3.4,7.6 -12 0 1 1326.7,2370.7" fill="none" stroke="#1fe6ee" stroke-width="2.3"/>
<path d="M1329.8,2353.2 A3.4,7.6 -12 0 1 1331.8,2368.2" fill="none" stroke="#1fe6ee" stroke-width="2.3"/>
<path d="M1334.9,2350.8 A3.4,7.6 -12 0 1 1336.9,2365.8" fill="none" stroke="#1fe6ee" stroke-width="2.3"/>
<path d="M1340.0,2348.3 A3.4,7.6 -12 0 1 1342.0,2363.3" fill="none" stroke="#1fe6ee" stroke-width="2.3"/>
<path d="M1345.1,2345.8 A3.4,7.6 -12 0 1 1347.1,2360.8" fill="none" stroke="#1fe6ee" stroke-width="2.3"/>
<path d="M1350.2,2343.3 A3.4,7.6 -12 0 1 1352.2,2358.3" fill="none" stroke="#1fe6ee" stroke-width="2.3"/>
<path d="M1355.3,2340.8 A3.4,7.6 -12 0 1 1357.3,2355.8" fill="none" stroke="#1fe6ee" stroke-width="2.3"/>
<path d="M1360.4,2338.4 A3.4,7.6 -12 0 1 1362.4,2353.4" fill="none" stroke="#1fe6ee" stroke-width="2.3"/>
<ellipse cx="1320.6" cy="2365.7" rx="3.6" ry="8.6" fill="none" stroke="#1fe6ee" stroke-width="3.2" transform="rotate(-12 1320.6 2365.7)"/>
<ellipse cx="1361.4" cy="2345.9" rx="3.6" ry="8.6" fill="none" stroke="#1fe6ee" stroke-width="3.2" transform="rotate(-12 1361.4 2345.9)"/>
<polyline points="1320.6,2357.9 1361.4,2338.1" fill="none" stroke="#1fe6ee" stroke-width="2.0" stroke-linejoin="round"/>
<polyline points="1320.6,2373.5 1361.4,2353.7" fill="none" stroke="#1fe6ee" stroke-width="2.8" stroke-linejoin="round"/>
<path d="M1380.5,2328.6 A3.4,7.6 -12 0 1 1382.5,2343.6" fill="none" stroke="#1fe6ee" stroke-width="2.3"/>
<path d="M1385.8,2326.0 A3.4,7.6 -12 0 1 1387.8,2341.0" fill="none" stroke="#1fe6ee" stroke-width="2.3"/>
<path d="M1391.1,2323.4 A3.4,7.6 -12 0 1 1393.1,2338.4" fill="none" stroke="#1fe6ee" stroke-width="2.3"/>
<path d="M1396.4,2320.9 A3.4,7.6 -12 0 1 1398.4,2335.9" fill="none" stroke="#1fe6ee" stroke-width="2.3"/>
<path d="M1401.6,2318.3 A3.4,7.6 -12 0 1 1403.6,2333.3" fill="none" stroke="#1fe6ee" stroke-width="2.3"/>
<path d="M1406.9,2315.7 A3.4,7.6 -12 0 1 1408.9,2330.7" fill="none" stroke="#1fe6ee" stroke-width="2.3"/>
<path d="M1412.2,2313.2 A3.4,7.6 -12 0 1 1414.2,2328.2" fill="none" stroke="#1fe6ee" stroke-width="2.3"/>
<path d="M1417.5,2310.6 A3.4,7.6 -12 0 1 1419.5,2325.6" fill="none" stroke="#1fe6ee" stroke-width="2.3"/>
<path d="M1422.7,2308.0 A3.4,7.6 -12 0 1 1424.7,2323.0" fill="none" stroke="#1fe6ee" stroke-width="2.3"/>
<ellipse cx="1381.5" cy="2336.1" rx="3.6" ry="8.6" fill="none" stroke="#1fe6ee" stroke-width="3.2" transform="rotate(-12 1381.5 2336.1)"/>
<ellipse cx="1423.7" cy="2315.5" rx="3.6" ry="8.6" fill="none" stroke="#1fe6ee" stroke-width="3.2" transform="rotate(-12 1423.7 2315.5)"/>
<polyline points="1381.5,2328.3 1423.7,2307.7" fill="none" stroke="#1fe6ee" stroke-width="2.0" stroke-linejoin="round"/>
<polyline points="1381.5,2343.9 1423.7,2323.3" fill="none" stroke="#1fe6ee" stroke-width="2.8" stroke-linejoin="round"/>
<line x1="1303.7" y1="2373.9" x2="1320.6" y2="2365.7" stroke="#c0392b" stroke-width="1"/>
<line x1="1423.7" y1="2315.5" x2="1444.4" y2="2305.5" stroke="#c0392b" stroke-width="1"/>
<line x1="1361.4" y1="2345.9" x2="1381.5" y2="2336.1" stroke="#c0392b" stroke-width="1"/>
<line x1="1444.4" y1="2305.5" x2="1473.6" y2="2288.9" stroke="#444" stroke-width="1" stroke-dasharray="6 3"/>
<ellipse cx="1473.6" cy="2288.9" rx="4" ry="7" fill="none" stroke="#1fe6ee" stroke-width="2"/>
<line x1="1255.7" y1="2400.1" x2="1303.7" y2="2373.9" stroke="#c0392b" stroke-width="1.1" stroke-dasharray="16 4 3 4"/>
<rect x="1692.7" y="965.7" width="168.3" height="492.8" fill="none" stroke="#1fe6ee" stroke-width="2.4"/>
<path d="M1712.0,1376.0 L1712.0,1169.7 A52,52 0 0 1 1750.5,1119.5" fill="none" stroke="#1fe6ee" stroke-width="2.8"/>
<path d="M1750.5,1119.5 L1923.5,1073.1" fill="none" stroke="#1fe6ee" stroke-width="3.2" stroke-linecap="round"/>
<path d="M1732.0,1381.0 L1732.0,1182.3 A50,50 0 0 1 1769.1,1134.0" fill="none" stroke="#1fe6ee" stroke-width="3.0"/>
<path d="M1769.1,1134.0 L1954.2,1084.4" fill="none" stroke="#1fe6ee" stroke-width="3.6" stroke-linecap="round"/>
<path d="M1755.0,1388.0 L1755.0,1184.5 A48,48 0 0 1 1790.6,1138.1" fill="none" stroke="#1fe6ee" stroke-width="7.2"/>
<path d="M1790.6,1138.1 L1971.2,1089.7" fill="none" stroke="#1fe6ee" stroke-width="4.6" stroke-linecap="round"/>
<path d="M1774.0,1393.0 L1774.0,1189.0 A46,46 0 0 1 1808.1,1144.6" fill="none" stroke="#1fe6ee" stroke-width="7.2"/>
<path d="M1808.1,1144.6 L1989.2,1096.0" fill="none" stroke="#1fe6ee" stroke-width="4.6" stroke-linecap="round"/>
<path d="M1793.0,1398.0 L1793.0,1192.2 A44,44 0 0 1 1825.6,1149.7" fill="none" stroke="#1fe6ee" stroke-width="7.2"/>
<path d="M1825.6,1149.7 L2006.1,1101.3" fill="none" stroke="#1fe6ee" stroke-width="4.6" stroke-linecap="round"/>
<path d="M1807.0,1402.0 L1807.0,1197.8 A46,46 0 0 1 1841.1,1153.4" fill="none" stroke="#1fe6ee" stroke-width="3.2"/>
<path d="M1841.1,1153.4 L2016.0,1106.5" fill="none" stroke="#1fe6ee" stroke-width="3.0" stroke-linecap="round"/>
<path d="M1826.0,1406.6 L1826.0,1211.5 A55,55 0 0 1 1866.8,1158.4" fill="none" stroke="#1fe6ee" stroke-width="3.6"/>
<path d="M1866.8,1158.4 L2037.9,1112.5" fill="none" stroke="#1fe6ee" stroke-width="3.6" stroke-linecap="round"/>
<polyline points="1763.6,1136.4 1857.8,1157.6" fill="none" stroke="#1fe6ee" stroke-width="2.6" stroke-linecap="butt" stroke-linejoin="round"/>
<polyline points="1763.6,1140.9 1857.8,1162.1" fill="none" stroke="#1fe6ee" stroke-width="2.4" stroke-linecap="butt" stroke-linejoin="round"/>
<polyline points="1853.8,1161.6 1853.8,1152.6 1859.8,1150.6" fill="none" stroke="#1fe6ee" stroke-width="2.0" stroke-linecap="butt" stroke-linejoin="round"/>
<polyline points="1831.4,1118.4 1921.4,1138.5" fill="none" stroke="#1fe6ee" stroke-width="2.6" stroke-linecap="butt" stroke-linejoin="round"/>
<polyline points="1831.4,1122.9 1921.4,1143.0" fill="none" stroke="#1fe6ee" stroke-width="2.4" stroke-linecap="butt" stroke-linejoin="round"/>
<polyline points="1917.4,1142.5 1917.4,1133.5 1923.4,1131.5" fill="none" stroke="#1fe6ee" stroke-width="2.0" stroke-linecap="butt" stroke-linejoin="round"/>
<polyline points="1892.8,1099.3 1986.0,1119.4" fill="none" stroke="#1fe6ee" stroke-width="2.6" stroke-linecap="butt" stroke-linejoin="round"/>
<polyline points="1892.8,1103.8 1986.0,1123.9" fill="none" stroke="#1fe6ee" stroke-width="2.4" stroke-linecap="butt" stroke-linejoin="round"/>
<polyline points="1982.0,1123.4 1982.0,1114.4 1988.0,1112.4" fill="none" stroke="#1fe6ee" stroke-width="2.0" stroke-linecap="butt" stroke-linejoin="round"/>
<polyline points="1733.6,1192.5 1816.9,1211.0" fill="none" stroke="#1fe6ee" stroke-width="8.2" stroke-linecap="butt" stroke-linejoin="round"/>
<rect x="1809.9" y="1207.0" width="6" height="6" fill="#fff"/>
<polyline points="1733.6,1255.2 1818.5,1274.8" fill="none" stroke="#1fe6ee" stroke-width="8.2" stroke-linecap="butt" stroke-linejoin="round"/>
<rect x="1811.5" y="1270.8" width="6" height="6" fill="#fff"/>
<polyline points="1713.0,1191.0 1713.0,1226.0" fill="none" stroke="#1fe6ee" stroke-width="2.2" stroke-linecap="butt" stroke-linejoin="round"/>
<polyline points="1730.0,1190.0 1730.0,1225.0" fill="none" stroke="#1fe6ee" stroke-width="2.2" stroke-linecap="butt" stroke-linejoin="round"/>
<polyline points="1715.0,1226.0 1731.0,1222.0" fill="none" stroke="#1fe6ee" stroke-width="2.0" stroke-linecap="butt" stroke-linejoin="round"/>
<circle cx="1721.6" cy="1203.0" r="1.9" fill="#1fe6ee"/>
<circle cx="1721.6" cy="1209.0" r="1.9" fill="#1fe6ee"/>
<circle cx="1721.6" cy="1215.0" r="1.9" fill="#1fe6ee"/>
<circle cx="1721.6" cy="1221.0" r="1.9" fill="#1fe6ee"/>
<polyline points="1804.0,1225.0 1804.0,1254.0" fill="none" stroke="#1fe6ee" stroke-width="3.2" stroke-linecap="butt" stroke-linejoin="round"/>
<polyline points="1826.0,1222.0 1826.0,1250.0" fill="none" stroke="#1fe6ee" stroke-width="5" stroke-linecap="butt" stroke-linejoin="round"/>
<circle cx="1816.3" cy="1228.0" r="2.1" fill="#1fe6ee"/>
<circle cx="1816.3" cy="1234.0" r="2.1" fill="#1fe6ee"/>
<circle cx="1816.3" cy="1241.0" r="2.1" fill="#1fe6ee"/>
<circle cx="1816.3" cy="1247.0" r="2.1" fill="#1fe6ee"/>
<polyline points="1808.0,1240.0 1823.0,1236.0" fill="none" stroke="#1fe6ee" stroke-width="1.6" stroke-linecap="butt" stroke-linejoin="round"/>
<polyline points="1845.0,1091.0 1845.0,1107.0" fill="none" stroke="#1fe6ee" stroke-width="2.4" stroke-linecap="butt" stroke-linejoin="round"/>
<polyline points="1866.0,1085.0 1866.0,1102.0" fill="none" stroke="#1fe6ee" stroke-width="2.4" stroke-linecap="butt" stroke-linejoin="round"/>
<circle cx="1850" cy="1099.0" r="1.8" fill="#1fe6ee"/>
<circle cx="1855" cy="1099.0" r="1.8" fill="#1fe6ee"/>
<circle cx="1860" cy="1099.0" r="1.8" fill="#1fe6ee"/>
<polyline points="1945.0,1118.0 1945.0,1131.0" fill="none" stroke="#1fe6ee" stroke-width="2.4" stroke-linecap="butt" stroke-linejoin="round"/>
<polyline points="1963.0,1113.0 1963.0,1127.0" fill="none" stroke="#1fe6ee" stroke-width="2.4" stroke-linecap="butt" stroke-linejoin="round"/>
<circle cx="1950" cy="1125.0" r="1.8" fill="#1fe6ee"/>
<circle cx="1955" cy="1125.0" r="1.8" fill="#1fe6ee"/>
<circle cx="1959" cy="1125.0" r="1.8" fill="#1fe6ee"/>
<polyline points="1698.0,1272.0 1708.0,1266.0 1710.0,1280.0" fill="none" stroke="#1fe6ee" stroke-width="2.4" stroke-linecap="butt" stroke-linejoin="round"/>
<polyline points="1698.0,1272.0 1698.0,1313.0 1712.0,1313.0 1750.0,1283.0 1751.0,1270.0 1745.0,1270.0 1699.0,1282.0" fill="none" stroke="#1fe6ee" stroke-width="2.4" stroke-linecap="butt" stroke-linejoin="round"/>
<polyline points="1699.0,1292.0 1750.0,1281.0" fill="none" stroke="#1fe6ee" stroke-width="2.4" stroke-linecap="butt" stroke-linejoin="round"/>
<polyline points="1702.0,1312.0 1738.0,1284.0" fill="none" stroke="#1fe6ee" stroke-width="2.0" stroke-linecap="butt" stroke-linejoin="round"/>
<circle cx="1705" cy="1300.0" r="2.4" fill="none" stroke="#1fe6ee" stroke-width="2"/>
<polyline points="1829.0,1297.0 1850.0,1296.0 1853.0,1306.0 1830.0,1318.0" fill="none" stroke="#1fe6ee" stroke-width="2.4" stroke-linecap="butt" stroke-linejoin="round"/>
<polyline points="1839.0,1296.0 1843.0,1305.0" fill="none" stroke="#1fe6ee" stroke-width="2.0" stroke-linecap="butt" stroke-linejoin="round"/>
<polygon points="1711.1,1005.3 1717.9,1004.4 1715.9,998.2" fill="none" stroke="#1fe6ee" stroke-width="2"/>
<polygon points="1703.8,1030.2 1710.6,1029.3 1708.7,1023.1" fill="none" stroke="#1fe6ee" stroke-width="2"/>
<polygon points="1777.7,1036.1 1784.5,1035.2 1782.5,1029.0" fill="none" stroke="#1fe6ee" stroke-width="2"/>
<polygon points="1772.8,1046.8 1779.6,1045.9 1777.7,1039.7" fill="none" stroke="#1fe6ee" stroke-width="2"/>
<polygon points="1852.7,1043.3 1859.5,1042.3 1857.6,1036.1" fill="none" stroke="#1fe6ee" stroke-width="2"/>
<polygon points="1691.7,1061.0 1698.5,1060.1 1696.6,1053.9" fill="none" stroke="#1fe6ee" stroke-width="2"/>
<polygon points="1800.7,1078.8 1807.5,1077.9 1805.5,1071.7" fill="none" stroke="#1fe6ee" stroke-width="2"/>
<polygon points="1835.8,1087.1 1842.6,1086.2 1840.6,1080.0" fill="none" stroke="#1fe6ee" stroke-width="2"/>
<polygon points="1718.4,1107.3 1725.1,1106.3 1723.2,1100.2" fill="none" stroke="#1fe6ee" stroke-width="2"/>
<polygon points="1793.4,1113.2 1800.2,1112.3 1798.3,1106.1" fill="none" stroke="#1fe6ee" stroke-width="2"/>
<polygon points="1748.6,1121.5 1755.4,1120.6 1753.5,1114.4" fill="none" stroke="#1fe6ee" stroke-width="2"/>
<polygon points="1703.8,1178.4 1710.6,1177.5 1708.7,1171.3" fill="none" stroke="#1fe6ee" stroke-width="2"/>
<polygon points="1734.1,1356.3 1740.9,1355.3 1738.9,1349.1" fill="none" stroke="#1fe6ee" stroke-width="2"/>
<polygon points="1700.2,1412.0 1707.0,1411.0 1705.0,1404.9" fill="none" stroke="#1fe6ee" stroke-width="2"/>
<polygon points="1729.2,1413.2 1736.0,1412.2 1734.1,1406.1" fill="none" stroke="#1fe6ee" stroke-width="2"/>
<polygon points="1775.3,1416.7 1782.0,1415.8 1780.1,1409.6" fill="none" stroke="#1fe6ee" stroke-width="2"/>
<polygon points="1794.6,1431.0 1801.4,1430.0 1799.5,1423.8" fill="none" stroke="#1fe6ee" stroke-width="2"/>
<polygon points="1840.6,1433.3 1847.4,1432.4 1845.5,1426.2" fill="none" stroke="#1fe6ee" stroke-width="2"/>
<polygon points="1850.3,1421.5 1857.1,1420.5 1855.2,1414.4" fill="none" stroke="#1fe6ee" stroke-width="2"/>
<polygon points="1821.3,1286.3 1828.0,1285.4 1826.1,1279.2" fill="none" stroke="#1fe6ee" stroke-width="2"/>
<polygon points="1714.7,1298.2 1721.5,1297.2 1719.6,1291.0" fill="none" stroke="#1fe6ee" stroke-width="2"/>
<polygon points="1799.5,976.9 1806.2,975.9 1804.3,969.7" fill="none" stroke="#1fe6ee" stroke-width="2"/>
<rect x="1735.4" y="1233.5" width="2.2" height="2.2" fill="#3cc6ca"/>
<rect x="1708.1" y="977.1" width="2.2" height="2.2" fill="#3cc6ca"/>
<rect x="1830.3" y="1095.9" width="2.2" height="2.2" fill="#3cc6ca"/>
<rect x="1734.8" y="1451.4" width="2.2" height="2.2" fill="#3cc6ca"/>
<rect x="1798.9" y="1043.4" width="2.2" height="2.2" fill="#3cc6ca"/>
<rect x="1702.6" y="1388.6" width="2.2" height="2.2" fill="#3cc6ca"/>
<rect x="1772.5" y="1317.7" width="2.2" height="2.2" fill="#3cc6ca"/>
<rect x="1810.7" y="1415.4" width="2.2" height="2.2" fill="#3cc6ca"/>
<rect x="1845.8" y="1395.0" width="2.2" height="2.2" fill="#3cc6ca"/>
<rect x="1713.1" y="1036.3" width="2.2" height="2.2" fill="#3cc6ca"/>
<rect x="1732.0" y="1436.8" width="2.2" height="2.2" fill="#3cc6ca"/>
<rect x="1778.0" y="1157.0" width="2.2" height="2.2" fill="#3cc6ca"/>
<rect x="1840.8" y="1300.0" width="2.2" height="2.2" fill="#3cc6ca"/>
<rect x="1844.8" y="1384.2" width="2.2" height="2.2" fill="#3cc6ca"/>
<rect x="1854.6" y="1294.8" width="2.2" height="2.2" fill="#3cc6ca"/>
<rect x="1723.5" y="1386.2" width="2.2" height="2.2" fill="#3cc6ca"/>
<rect x="1850.4" y="1407.5" width="2.2" height="2.2" fill="#3cc6ca"/>
<rect x="1707.7" y="1383.0" width="2.2" height="2.2" fill="#3cc6ca"/>
<rect x="1854.4" y="1013.4" width="2.2" height="2.2" fill="#3cc6ca"/>
<rect x="1824.4" y="1168.9" width="2.2" height="2.2" fill="#3cc6ca"/>
<rect x="1721.6" y="1112.6" width="2.2" height="2.2" fill="#3cc6ca"/>
<rect x="1795.0" y="992.4" width="2.2" height="2.2" fill="#3cc6ca"/>
<rect x="1811.4" y="1130.5" width="2.2" height="2.2" fill="#3cc6ca"/>
<rect x="1837.1" y="1444.2" width="2.2" height="2.2" fill="#3cc6ca"/>
<rect x="1777.7" y="1452.8" width="2.2" height="2.2" fill="#3cc6ca"/>
<rect x="1746.7" y="1007.9" width="2.2" height="2.2" fill="#3cc6ca"/>
<rect x="1792.6" y="985.8" width="2.2" height="2.2" fill="#3cc6ca"/>
<rect x="1728.9" y="1167.7" width="2.2" height="2.2" fill="#3cc6ca"/>
<rect x="1794.3" y="1046.1" width="2.2" height="2.2" fill="#3cc6ca"/>
<rect x="1704.4" y="1389.7" width="2.2" height="2.2" fill="#3cc6ca"/>
<rect x="1747.4" y="1433.5" width="2.2" height="2.2" fill="#3cc6ca"/>
<rect x="1839.6" y="1153.1" width="2.2" height="2.2" fill="#3cc6ca"/>
<rect x="1846.6" y="1215.5" width="2.2" height="2.2" fill="#3cc6ca"/>
<rect x="1745.4" y="1442.8" width="2.2" height="2.2" fill="#3cc6ca"/>
<rect x="1701.2" y="999.9" width="2.2" height="2.2" fill="#3cc6ca"/>
<rect x="1804.7" y="1435.8" width="2.2" height="2.2" fill="#3cc6ca"/>
<rect x="1737.5" y="1191.0" width="2.2" height="2.2" fill="#3cc6ca"/>
<rect x="1791.5" y="1125.2" width="2.2" height="2.2" fill="#3cc6ca"/>
<rect x="1755.3" y="1121.7" width="2.2" height="2.2" fill="#3cc6ca"/>
<rect x="1732.9" y="1358.8" width="2.2" height="2.2" fill="#3cc6ca"/>
<rect x="1735.5" y="1061.2" width="2.2" height="2.2" fill="#3cc6ca"/>
<rect x="1748.7" y="1131.8" width="2.2" height="2.2" fill="#3cc6ca"/>
<rect x="1829.6" y="1182.4" width="2.2" height="2.2" fill="#3cc6ca"/>
<rect x="1724.5" y="1133.3" width="2.2" height="2.2" fill="#3cc6ca"/>
<rect x="1733.3" y="1029.1" width="2.2" height="2.2" fill="#3cc6ca"/>
<rect x="1781.5" y="1062.8" width="2.2" height="2.2" fill="#3cc6ca"/>
<rect x="1741.8" y="1360.4" width="2.2" height="2.2" fill="#3cc6ca"/>
<rect x="1718.2" y="1111.7" width="2.2" height="2.2" fill="#3cc6ca"/>
<rect x="1823.4" y="1101.6" width="2.2" height="2.2" fill="#3cc6ca"/>
<rect x="1752.5" y="1172.0" width="2.2" height="2.2" fill="#3cc6ca"/>
<rect x="1764.1" y="1168.4" width="2.2" height="2.2" fill="#3cc6ca"/>
<rect x="1843.4" y="1046.0" width="2.2" height="2.2" fill="#3cc6ca"/>
<rect x="1698.4" y="1426.1" width="2.2" height="2.2" fill="#3cc6ca"/>
<rect x="1837.0" y="1447.2" width="2.2" height="2.2" fill="#3cc6ca"/>
<rect x="1766.5" y="1429.4" width="2.2" height="2.2" fill="#3cc6ca"/>
<rect x="1844.5" y="1077.9" width="2.2" height="2.2" fill="#3cc6ca"/>
<rect x="1779.9" y="1110.2" width="2.2" height="2.2" fill="#3cc6ca"/>
<rect x="1751.7" y="1080.5" width="2.2" height="2.2" fill="#3cc6ca"/>
<rect x="1708.5" y="1254.9" width="2.2" height="2.2" fill="#3cc6ca"/>
<rect x="1743.1" y="1361.9" width="2.2" height="2.2" fill="#3cc6ca"/>
<rect x="1704.8" y="1407.0" width="2.2" height="2.2" fill="#3cc6ca"/>
<rect x="1807.5" y="1416.7" width="2.2" height="2.2" fill="#3cc6ca"/>
<rect x="1839.6" y="1405.1" width="2.2" height="2.2" fill="#3cc6ca"/>
<rect x="1789.0" y="977.0" width="2.2" height="2.2" fill="#3cc6ca"/>
<rect x="1815.7" y="1053.7" width="2.2" height="2.2" fill="#3cc6ca"/>
<rect x="1763.2" y="1424.1" width="2.2" height="2.2" fill="#3cc6ca"/>
<rect x="1794.6" y="1135.5" width="2.2" height="2.2" fill="#3cc6ca"/>
<rect x="1737.7" y="1386.7" width="2.2" height="2.2" fill="#3cc6ca"/>
<rect x="1728.9" y="1228.8" width="2.2" height="2.2" fill="#3cc6ca"/>
<rect x="1827.0" y="1053.4" width="2.2" height="2.2" fill="#3cc6ca"/>
<rect x="1823.0" y="1415.7" width="2.2" height="2.2" fill="#3cc6ca"/>
<rect x="1740.7" y="1100.4" width="2.2" height="2.2" fill="#3cc6ca"/>
<rect x="1781.2" y="1174.9" width="2.2" height="2.2" fill="#3cc6ca"/>
<rect x="1706.4" y="1031.9" width="2.2" height="2.2" fill="#3cc6ca"/>
<rect x="1717.4" y="1003.7" width="2.2" height="2.2" fill="#3cc6ca"/>
<rect x="1852.0" y="1383.2" width="2.2" height="2.2" fill="#3cc6ca"/>
<rect x="1711.3" y="1213.1" width="2.2" height="2.2" fill="#3cc6ca"/>
<rect x="1747.7" y="1122.6" width="2.2" height="2.2" fill="#3cc6ca"/>
<rect x="1754.8" y="1063.0" width="2.2" height="2.2" fill="#3cc6ca"/>
<rect x="1749.7" y="1030.4" width="2.2" height="2.2" fill="#3cc6ca"/>
<rect x="1710.3" y="1056.9" width="2.2" height="2.2" fill="#3cc6ca"/>
<rect x="1766.0" y="1150.5" width="2.2" height="2.2" fill="#3cc6ca"/>
<rect x="1765.0" y="1176.3" width="2.2" height="2.2" fill="#3cc6ca"/>
<rect x="1837.0" y="1422.8" width="2.2" height="2.2" fill="#3cc6ca"/>
<rect x="1756.9" y="1404.2" width="2.2" height="2.2" fill="#3cc6ca"/>
<rect x="1822.9" y="1097.3" width="2.2" height="2.2" fill="#3cc6ca"/>
<rect x="1771.2" y="1030.2" width="2.2" height="2.2" fill="#3cc6ca"/>
<rect x="1826.4" y="1290.5" width="2.2" height="2.2" fill="#3cc6ca"/>
<rect x="1787.0" y="1020.5" width="2.2" height="2.2" fill="#3cc6ca"/>
<rect x="1790.7" y="973.1" width="2.2" height="2.2" fill="#3cc6ca"/>
<rect x="1720.4" y="1344.5" width="2.2" height="2.2" fill="#3cc6ca"/>
<rect x="1704.7" y="1015.0" width="2.2" height="2.2" fill="#3cc6ca"/>
<rect x="1713.4" y="1395.8" width="2.2" height="2.2" fill="#3cc6ca"/>
<rect x="1726.1" y="982.0" width="2.2" height="2.2" fill="#3cc6ca"/>
<rect x="1830.9" y="1029.3" width="2.2" height="2.2" fill="#3cc6ca"/>
<rect x="1831.3" y="1295.9" width="2.2" height="2.2" fill="#3cc6ca"/>
<rect x="1848.5" y="1250.3" width="2.2" height="2.2" fill="#3cc6ca"/>
<rect x="1824.1" y="988.2" width="2.2" height="2.2" fill="#3cc6ca"/>
<rect x="1714.6" y="1332.3" width="2.2" height="2.2" fill="#3cc6ca"/>
<rect x="1845.6" y="1000.2" width="2.2" height="2.2" fill="#3cc6ca"/>
<rect x="1749.0" y="1243.0" width="2.2" height="2.2" fill="#3cc6ca"/>
<rect x="1736.0" y="1057.5" width="2.2" height="2.2" fill="#3cc6ca"/>
<rect x="1737.3" y="1268.1" width="2.2" height="2.2" fill="#3cc6ca"/>
<rect x="1817.0" y="1160.8" width="2.2" height="2.2" fill="#3cc6ca"/>
<rect x="1755.9" y="1162.2" width="2.2" height="2.2" fill="#3cc6ca"/>
<rect x="1753.2" y="1172.6" width="2.2" height="2.2" fill="#3cc6ca"/>
<rect x="1710.9" y="1212.2" width="2.2" height="2.2" fill="#3cc6ca"/>
<rect x="1851.7" y="1170.0" width="2.2" height="2.2" fill="#3cc6ca"/>
<rect x="1816.0" y="1048.2" width="2.2" height="2.2" fill="#3cc6ca"/>
<rect x="1839.8" y="1042.8" width="2.2" height="2.2" fill="#3cc6ca"/>
<rect x="1712.9" y="1331.9" width="2.2" height="2.2" fill="#3cc6ca"/>
<rect x="1842.8" y="1220.4" width="2.2" height="2.2" fill="#3cc6ca"/>
<rect x="1740.0" y="1066.9" width="2.2" height="2.2" fill="#3cc6ca"/>
<rect x="1790.4" y="1122.7" width="2.2" height="2.2" fill="#3cc6ca"/>
<rect x="1734.5" y="1304.4" width="2.2" height="2.2" fill="#3cc6ca"/>
<rect x="1848.6" y="1113.5" width="2.2" height="2.2" fill="#3cc6ca"/>
<rect x="1809.4" y="1170.2" width="2.2" height="2.2" fill="#3cc6ca"/>
<rect x="1732.1" y="981.9" width="2.2" height="2.2" fill="#3cc6ca"/>
<rect x="1773.6" y="1155.5" width="2.2" height="2.2" fill="#3cc6ca"/>
<rect x="1725.0" y="1144.7" width="2.2" height="2.2" fill="#3cc6ca"/>
<rect x="1854.6" y="1202.2" width="2.2" height="2.2" fill="#3cc6ca"/>
<rect x="1792.5" y="1196.7" width="2.2" height="2.2" fill="#3cc6ca"/>
<rect x="1813.8" y="1434.3" width="2.2" height="2.2" fill="#3cc6ca"/>
<rect x="1771.7" y="1081.6" width="2.2" height="2.2" fill="#3cc6ca"/>
<rect x="1734.9" y="1317.2" width="2.2" height="2.2" fill="#3cc6ca"/>
<rect x="1804.6" y="1433.6" width="2.2" height="2.2" fill="#3cc6ca"/>
<rect x="1832.9" y="1087.6" width="2.2" height="2.2" fill="#3cc6ca"/>
<rect x="1727.7" y="1095.6" width="2.2" height="2.2" fill="#3cc6ca"/>
<rect x="1727.3" y="1310.9" width="2.2" height="2.2" fill="#3cc6ca"/>
<rect x="1833.6" y="1405.1" width="2.2" height="2.2" fill="#3cc6ca"/>
<rect x="1738.1" y="1388.4" width="2.2" height="2.2" fill="#3cc6ca"/>
<rect x="1747.3" y="1175.1" width="2.2" height="2.2" fill="#3cc6ca"/>
<rect x="1813.1" y="1012.2" width="2.2" height="2.2" fill="#3cc6ca"/>
<rect x="1712.4" y="1373.3" width="2.2" height="2.2" fill="#3cc6ca"/>
<rect x="1743.9" y="1142.9" width="2.2" height="2.2" fill="#3cc6ca"/>
<rect x="1731.0" y="1253.2" width="2.2" height="2.2" fill="#3cc6ca"/>
<rect x="1848.9" y="1159.4" width="2.2" height="2.2" fill="#3cc6ca"/>
<rect x="1783.9" y="1028.2" width="2.2" height="2.2" fill="#3cc6ca"/>
<rect x="1741.2" y="1292.0" width="2.2" height="2.2" fill="#3cc6ca"/>
<rect x="1715.5" y="1399.0" width="2.2" height="2.2" fill="#3cc6ca"/>
<rect x="1841.6" y="1017.5" width="2.2" height="2.2" fill="#3cc6ca"/>
<rect x="1846.7" y="1151.4" width="2.2" height="2.2" fill="#3cc6ca"/>
<rect x="1804.7" y="1286.5" width="2.2" height="2.2" fill="#3cc6ca"/>
<rect x="1739.7" y="1334.8" width="2.2" height="2.2" fill="#3cc6ca"/>
<rect x="1849.9" y="1295.5" width="2.2" height="2.2" fill="#3cc6ca"/>
<rect x="1782.6" y="1025.4" width="2.2" height="2.2" fill="#3cc6ca"/>
<rect x="1775.9" y="1140.7" width="2.2" height="2.2" fill="#3cc6ca"/>
<rect x="1726.5" y="1282.4" width="2.2" height="2.2" fill="#3cc6ca"/>
<rect x="1797.6" y="1057.2" width="2.2" height="2.2" fill="#3cc6ca"/>
<rect x="1838.6" y="1287.1" width="2.2" height="2.2" fill="#3cc6ca"/>
<rect x="1717.2" y="1420.6" width="2.2" height="2.2" fill="#3cc6ca"/>
<rect x="1720.1" y="1130.8" width="2.2" height="2.2" fill="#3cc6ca"/>
<rect x="1725.6" y="1003.8" width="2.2" height="2.2" fill="#3cc6ca"/>
<rect x="1814.8" y="1144.1" width="2.2" height="2.2" fill="#3cc6ca"/>
<rect x="1739.8" y="1155.8" width="2.2" height="2.2" fill="#3cc6ca"/>
<rect x="1835.8" y="991.0" width="2.2" height="2.2" fill="#3cc6ca"/>
<rect x="1777.6" y="1090.0" width="2.2" height="2.2" fill="#3cc6ca"/>
<rect x="1819.4" y="1141.7" width="2.2" height="2.2" fill="#3cc6ca"/>
<rect x="1750.4" y="1165.4" width="2.2" height="2.2" fill="#3cc6ca"/>
<rect x="1831.8" y="1024.8" width="2.2" height="2.2" fill="#3cc6ca"/>
<rect x="1740.5" y="1018.8" width="2.2" height="2.2" fill="#3cc6ca"/>
<rect x="1715.5" y="1346.8" width="2.2" height="2.2" fill="#3cc6ca"/>
<rect x="1812.8" y="1059.9" width="2.2" height="2.2" fill="#3cc6ca"/>
<rect x="1727.6" y="1171.9" width="2.2" height="2.2" fill="#3cc6ca"/>
<rect x="1791.4" y="1041.4" width="2.2" height="2.2" fill="#3cc6ca"/>
<rect x="1760.8" y="1064.2" width="2.2" height="2.2" fill="#3cc6ca"/>
<rect x="1737.3" y="1348.1" width="2.2" height="2.2" fill="#3cc6ca"/>
<rect x="1702.5" y="1358.5" width="2.2" height="2.2" fill="#3cc6ca"/>
<rect x="1838.8" y="1429.0" width="2.2" height="2.2" fill="#3cc6ca"/>
<rect x="1798.0" y="1442.4" width="2.2" height="2.2" fill="#3cc6ca"/>
<rect x="1806.4" y="1115.3" width="2.2" height="2.2" fill="#3cc6ca"/>
<rect x="1812.8" y="971.8" width="2.2" height="2.2" fill="#3cc6ca"/>
<rect x="1781.5" y="988.6" width="2.2" height="2.2" fill="#3cc6ca"/>
<rect x="1787.3" y="1433.7" width="2.2" height="2.2" fill="#3cc6ca"/>
<rect x="1838.9" y="1036.2" width="2.2" height="2.2" fill="#3cc6ca"/>
<rect x="1754.7" y="1083.4" width="2.2" height="2.2" fill="#3cc6ca"/>
<rect x="1710.0" y="1230.9" width="2.2" height="2.2" fill="#3cc6ca"/>
<rect x="1844.9" y="1126.7" width="2.2" height="2.2" fill="#3cc6ca"/>
<rect x="1835.5" y="1306.1" width="2.2" height="2.2" fill="#3cc6ca"/>
<rect x="1719.0" y="1385.1" width="2.2" height="2.2" fill="#3cc6ca"/>
<rect x="1792.9" y="1418.2" width="2.2" height="2.2" fill="#3cc6ca"/>
<rect x="1825.4" y="1420.5" width="2.2" height="2.2" fill="#3cc6ca"/>
<rect x="1774.5" y="1023.4" width="2.2" height="2.2" fill="#3cc6ca"/>
<rect x="1704.5" y="1008.3" width="2.2" height="2.2" fill="#3cc6ca"/>
<rect x="1729.4" y="1048.3" width="2.2" height="2.2" fill="#3cc6ca"/>
<rect x="1726.3" y="1404.9" width="2.2" height="2.2" fill="#3cc6ca"/>
<rect x="1811.6" y="1147.9" width="2.2" height="2.2" fill="#3cc6ca"/>
<rect x="1733.1" y="972.0" width="2.2" height="2.2" fill="#3cc6ca"/>
<rect x="1730.8" y="1348.8" width="2.2" height="2.2" fill="#3cc6ca"/>
<rect x="1720.4" y="1192.8" width="2.2" height="2.2" fill="#3cc6ca"/>
<rect x="1728.6" y="1071.7" width="2.2" height="2.2" fill="#3cc6ca"/>
<rect x="1724.7" y="1165.6" width="2.2" height="2.2" fill="#3cc6ca"/>
<rect x="1724.3" y="984.0" width="2.2" height="2.2" fill="#3cc6ca"/>
<rect x="1715.1" y="1051.9" width="2.2" height="2.2" fill="#3cc6ca"/>
<rect x="1775.3" y="999.5" width="2.2" height="2.2" fill="#3cc6ca"/>
<rect x="1701.3" y="1187.0" width="2.2" height="2.2" fill="#3cc6ca"/>
<rect x="1761.5" y="1162.2" width="2.2" height="2.2" fill="#3cc6ca"/>
<rect x="1701.9" y="1436.9" width="2.2" height="2.2" fill="#3cc6ca"/>
<rect x="1732.4" y="1016.2" width="2.2" height="2.2" fill="#3cc6ca"/>
<rect x="1772.8" y="1050.2" width="2.2" height="2.2" fill="#3cc6ca"/>
<rect x="1796.2" y="1137.9" width="2.2" height="2.2" fill="#3cc6ca"/>
<rect x="1717.3" y="995.8" width="2.2" height="2.2" fill="#3cc6ca"/>
<rect x="1812.9" y="1103.5" width="2.2" height="2.2" fill="#3cc6ca"/>
<rect x="1822.4" y="1195.4" width="2.2" height="2.2" fill="#3cc6ca"/>
<rect x="1745.3" y="1091.4" width="2.2" height="2.2" fill="#3cc6ca"/>
<rect x="1739.8" y="1364.0" width="2.2" height="2.2" fill="#3cc6ca"/>
<rect x="1797.3" y="1137.1" width="2.2" height="2.2" fill="#3cc6ca"/>
<rect x="1712.5" y="1300.2" width="2.2" height="2.2" fill="#3cc6ca"/>
<rect x="1851.1" y="1256.6" width="2.2" height="2.2" fill="#3cc6ca"/>
<rect x="1698.3" y="985.3" width="2.2" height="2.2" fill="#3cc6ca"/>
<rect x="1689.7" y="2160" width="168.3" height="492.4" fill="none" stroke="#1fe6ee" stroke-width="2.4"/>
<path d="M1712.0,2546.7 L1712.0,2340.4 A52,52 0 0 1 1750.5,2290.2" fill="none" stroke="#1fe6ee" stroke-width="2.8"/>
<path d="M1750.5,2290.2 L1923.5,2243.8" fill="none" stroke="#1fe6ee" stroke-width="3.2" stroke-linecap="round"/>
<path d="M1732.0,2551.7 L1732.0,2353.0 A50,50 0 0 1 1769.1,2304.7" fill="none" stroke="#1fe6ee" stroke-width="3.0"/>
<path d="M1769.1,2304.7 L1954.2,2255.1" fill="none" stroke="#1fe6ee" stroke-width="3.6" stroke-linecap="round"/>
<path d="M1755.0,2558.7 L1755.0,2355.2 A48,48 0 0 1 1790.6,2308.8" fill="none" stroke="#1fe6ee" stroke-width="7.2"/>
<path d="M1790.6,2308.8 L1971.2,2260.4" fill="none" stroke="#1fe6ee" stroke-width="4.6" stroke-linecap="round"/>
<path d="M1774.0,2563.7 L1774.0,2359.7 A46,46 0 0 1 1808.1,2315.3" fill="none" stroke="#1fe6ee" stroke-width="7.2"/>
<path d="M1808.1,2315.3 L1989.2,2266.7" fill="none" stroke="#1fe6ee" stroke-width="4.6" stroke-linecap="round"/>
<path d="M1793.0,2568.7 L1793.0,2362.9 A44,44 0 0 1 1825.6,2320.4" fill="none" stroke="#1fe6ee" stroke-width="7.2"/>
<path d="M1825.6,2320.4 L2006.1,2272.0" fill="none" stroke="#1fe6ee" stroke-width="4.6" stroke-linecap="round"/>
<path d="M1807.0,2572.7 L1807.0,2368.5 A46,46 0 0 1 1841.1,2324.1" fill="none" stroke="#1fe6ee" stroke-width="3.2"/>
<path d="M1841.1,2324.1 L2016.0,2277.2" fill="none" stroke="#1fe6ee" stroke-width="3.0" stroke-linecap="round"/>
<path d="M1826.0,2577.3 L1826.0,2382.2 A55,55 0 0 1 1866.8,2329.1" fill="none" stroke="#1fe6ee" stroke-width="3.6"/>
<path d="M1866.8,2329.1 L2037.9,2283.2" fill="none" stroke="#1fe6ee" stroke-width="3.6" stroke-linecap="round"/>
<polyline points="1763.6,2307.1 1857.8,2328.3" fill="none" stroke="#1fe6ee" stroke-width="2.6" stroke-linecap="butt" stroke-linejoin="round"/>
<polyline points="1763.6,2311.6 1857.8,2332.8" fill="none" stroke="#1fe6ee" stroke-width="2.4" stroke-linecap="butt" stroke-linejoin="round"/>
<polyline points="1853.8,2332.3 1853.8,2323.3 1859.8,2321.3" fill="none" stroke="#1fe6ee" stroke-width="2.0" stroke-linecap="butt" stroke-linejoin="round"/>
<polyline points="1831.4,2289.1 1921.4,2309.2" fill="none" stroke="#1fe6ee" stroke-width="2.6" stroke-linecap="butt" stroke-linejoin="round"/>
<polyline points="1831.4,2293.6 1921.4,2313.7" fill="none" stroke="#1fe6ee" stroke-width="2.4" stroke-linecap="butt" stroke-linejoin="round"/>
<polyline points="1917.4,2313.2 1917.4,2304.2 1923.4,2302.2" fill="none" stroke="#1fe6ee" stroke-width="2.0" stroke-linecap="butt" stroke-linejoin="round"/>
<polyline points="1892.8,2270.0 1986.0,2290.1" fill="none" stroke="#1fe6ee" stroke-width="2.6" stroke-linecap="butt" stroke-linejoin="round"/>
<polyline points="1892.8,2274.5 1986.0,2294.6" fill="none" stroke="#1fe6ee" stroke-width="2.4" stroke-linecap="butt" stroke-linejoin="round"/>
<polyline points="1982.0,2294.1 1982.0,2285.1 1988.0,2283.1" fill="none" stroke="#1fe6ee" stroke-width="2.0" stroke-linecap="butt" stroke-linejoin="round"/>
<polyline points="1733.6,2363.2 1816.9,2381.7" fill="none" stroke="#1fe6ee" stroke-width="8.2" stroke-linecap="butt" stroke-linejoin="round"/>
<rect x="1809.9" y="2377.7" width="6" height="6" fill="#fff"/>
<polyline points="1733.6,2425.9 1818.5,2445.5" fill="none" stroke="#1fe6ee" stroke-width="8.2" stroke-linecap="butt" stroke-linejoin="round"/>
<rect x="1811.5" y="2441.5" width="6" height="6" fill="#fff"/>
<polyline points="1713.0,2361.7 1713.0,2396.7" fill="none" stroke="#1fe6ee" stroke-width="2.2" stroke-linecap="butt" stroke-linejoin="round"/>
<polyline points="1730.0,2360.7 1730.0,2395.7" fill="none" stroke="#1fe6ee" stroke-width="2.2" stroke-linecap="butt" stroke-linejoin="round"/>
<polyline points="1715.0,2396.7 1731.0,2392.7" fill="none" stroke="#1fe6ee" stroke-width="2.0" stroke-linecap="butt" stroke-linejoin="round"/>
<circle cx="1721.6" cy="2373.7" r="1.9" fill="#1fe6ee"/>
<circle cx="1721.6" cy="2379.7" r="1.9" fill="#1fe6ee"/>
<circle cx="1721.6" cy="2385.7" r="1.9" fill="#1fe6ee"/>
<circle cx="1721.6" cy="2391.7" r="1.9" fill="#1fe6ee"/>
<polyline points="1804.0,2395.7 1804.0,2424.7" fill="none" stroke="#1fe6ee" stroke-width="3.2" stroke-linecap="butt" stroke-linejoin="round"/>
<polyline points="1826.0,2392.7 1826.0,2420.7" fill="none" stroke="#1fe6ee" stroke-width="5" stroke-linecap="butt" stroke-linejoin="round"/>
<circle cx="1816.3" cy="2398.7" r="2.1" fill="#1fe6ee"/>
<circle cx="1816.3" cy="2404.7" r="2.1" fill="#1fe6ee"/>
<circle cx="1816.3" cy="2411.7" r="2.1" fill="#1fe6ee"/>
<circle cx="1816.3" cy="2417.7" r="2.1" fill="#1fe6ee"/>
<polyline points="1808.0,2410.7 1823.0,2406.7" fill="none" stroke="#1fe6ee" stroke-width="1.6" stroke-linecap="butt" stroke-linejoin="round"/>
<polyline points="1845.0,2261.7 1845.0,2277.7" fill="none" stroke="#1fe6ee" stroke-width="2.4" stroke-linecap="butt" stroke-linejoin="round"/>
<polyline points="1866.0,2255.7 1866.0,2272.7" fill="none" stroke="#1fe6ee" stroke-width="2.4" stroke-linecap="butt" stroke-linejoin="round"/>
<circle cx="1850" cy="2269.7" r="1.8" fill="#1fe6ee"/>
<circle cx="1855" cy="2269.7" r="1.8" fill="#1fe6ee"/>
<circle cx="1860" cy="2269.7" r="1.8" fill="#1fe6ee"/>
<polyline points="1945.0,2288.7 1945.0,2301.7" fill="none" stroke="#1fe6ee" stroke-width="2.4" stroke-linecap="butt" stroke-linejoin="round"/>
<polyline points="1963.0,2283.7 1963.0,2297.7" fill="none" stroke="#1fe6ee" stroke-width="2.4" stroke-linecap="butt" stroke-linejoin="round"/>
<circle cx="1950" cy="2295.7" r="1.8" fill="#1fe6ee"/>
<circle cx="1955" cy="2295.7" r="1.8" fill="#1fe6ee"/>
<circle cx="1959" cy="2295.7" r="1.8" fill="#1fe6ee"/>
<polyline points="1698.0,2442.7 1708.0,2436.7 1710.0,2450.7" fill="none" stroke="#1fe6ee" stroke-width="2.4" stroke-linecap="butt" stroke-linejoin="round"/>
<polyline points="1698.0,2442.7 1698.0,2483.7 1712.0,2483.7 1750.0,2453.7 1751.0,2440.7 1745.0,2440.7 1699.0,2452.7" fill="none" stroke="#1fe6ee" stroke-width="2.4" stroke-linecap="butt" stroke-linejoin="round"/>
<polyline points="1699.0,2462.7 1750.0,2451.7" fill="none" stroke="#1fe6ee" stroke-width="2.4" stroke-linecap="butt" stroke-linejoin="round"/>
<polyline points="1702.0,2482.7 1738.0,2454.7" fill="none" stroke="#1fe6ee" stroke-width="2.0" stroke-linecap="butt" stroke-linejoin="round"/>
<circle cx="1705" cy="2470.7" r="2.4" fill="none" stroke="#1fe6ee" stroke-width="2"/>
<polyline points="1829.0,2467.7 1850.0,2466.7 1853.0,2476.7 1830.0,2488.7" fill="none" stroke="#1fe6ee" stroke-width="2.4" stroke-linecap="butt" stroke-linejoin="round"/>
<polyline points="1839.0,2466.7 1843.0,2475.7" fill="none" stroke="#1fe6ee" stroke-width="2.0" stroke-linecap="butt" stroke-linejoin="round"/>
<polygon points="1708.1,2199.6 1714.9,2198.6 1712.9,2192.5" fill="none" stroke="#1fe6ee" stroke-width="2"/>
<polygon points="1700.8,2224.5 1707.6,2223.5 1705.7,2217.3" fill="none" stroke="#1fe6ee" stroke-width="2"/>
<polygon points="1774.7,2230.4 1781.5,2229.4 1779.5,2223.3" fill="none" stroke="#1fe6ee" stroke-width="2"/>
<polygon points="1769.8,2241.0 1776.6,2240.1 1774.7,2233.9" fill="none" stroke="#1fe6ee" stroke-width="2"/>
<polygon points="1849.7,2237.5 1856.5,2236.5 1854.6,2230.4" fill="none" stroke="#1fe6ee" stroke-width="2"/>
<polygon points="1688.7,2255.3 1695.5,2254.3 1693.6,2248.2" fill="none" stroke="#1fe6ee" stroke-width="2"/>
<polygon points="1797.7,2273.0 1804.5,2272.1 1802.5,2265.9" fill="none" stroke="#1fe6ee" stroke-width="2"/>
<polygon points="1832.8,2281.3 1839.6,2280.4 1837.6,2274.2" fill="none" stroke="#1fe6ee" stroke-width="2"/>
<polygon points="1715.4,2301.5 1722.1,2300.5 1720.2,2294.4" fill="none" stroke="#1fe6ee" stroke-width="2"/>
<polygon points="1790.4,2307.4 1797.2,2306.4 1795.3,2300.3" fill="none" stroke="#1fe6ee" stroke-width="2"/>
<polygon points="1745.6,2315.7 1752.4,2314.7 1750.5,2308.6" fill="none" stroke="#1fe6ee" stroke-width="2"/>
<polygon points="1700.8,2372.5 1707.6,2371.6 1705.7,2365.4" fill="none" stroke="#1fe6ee" stroke-width="2"/>
<polygon points="1731.1,2550.2 1737.9,2549.3 1735.9,2543.1" fill="none" stroke="#1fe6ee" stroke-width="2"/>
<polygon points="1697.2,2605.9 1704.0,2605.0 1702.0,2598.8" fill="none" stroke="#1fe6ee" stroke-width="2"/>
<polygon points="1726.2,2607.1 1733.0,2606.2 1731.1,2600.0" fill="none" stroke="#1fe6ee" stroke-width="2"/>
<polygon points="1772.3,2610.7 1779.0,2609.7 1777.1,2603.6" fill="none" stroke="#1fe6ee" stroke-width="2"/>
<polygon points="1791.6,2624.9 1798.4,2623.9 1796.5,2617.8" fill="none" stroke="#1fe6ee" stroke-width="2"/>
<polygon points="1837.6,2627.2 1844.4,2626.3 1842.5,2620.1" fill="none" stroke="#1fe6ee" stroke-width="2"/>
<polygon points="1847.3,2615.4 1854.1,2614.5 1852.2,2608.3" fill="none" stroke="#1fe6ee" stroke-width="2"/>
<polygon points="1818.3,2480.3 1825.0,2479.4 1823.1,2473.2" fill="none" stroke="#1fe6ee" stroke-width="2"/>
<polygon points="1711.7,2492.2 1718.5,2491.2 1716.6,2485.1" fill="none" stroke="#1fe6ee" stroke-width="2"/>
<polygon points="1796.5,2171.1 1803.2,2170.2 1801.3,2164.0" fill="none" stroke="#1fe6ee" stroke-width="2"/>
<rect x="1732.4" y="2427.5" width="2.2" height="2.2" fill="#3cc6ca"/>
<rect x="1753.3" y="2456.3" width="2.2" height="2.2" fill="#3cc6ca"/>
<rect x="1793.8" y="2196.6" width="2.2" height="2.2" fill="#3cc6ca"/>
<rect x="1696.8" y="2569.0" width="2.2" height="2.2" fill="#3cc6ca"/>
<rect x="1735.8" y="2278.0" width="2.2" height="2.2" fill="#3cc6ca"/>
<rect x="1852.3" y="2391.9" width="2.2" height="2.2" fill="#3cc6ca"/>
<rect x="1827.1" y="2394.8" width="2.2" height="2.2" fill="#3cc6ca"/>
<rect x="1795.9" y="2237.7" width="2.2" height="2.2" fill="#3cc6ca"/>
<rect x="1795.2" y="2583.7" width="2.2" height="2.2" fill="#3cc6ca"/>
<rect x="1777.5" y="2522.6" width="2.2" height="2.2" fill="#3cc6ca"/>
<rect x="1801.0" y="2195.9" width="2.2" height="2.2" fill="#3cc6ca"/>
<rect x="1814.7" y="2450.1" width="2.2" height="2.2" fill="#3cc6ca"/>
<rect x="1742.4" y="2180.0" width="2.2" height="2.2" fill="#3cc6ca"/>
<rect x="1831.7" y="2393.1" width="2.2" height="2.2" fill="#3cc6ca"/>
<rect x="1808.5" y="2588.9" width="2.2" height="2.2" fill="#3cc6ca"/>
<rect x="1807.7" y="2609.3" width="2.2" height="2.2" fill="#3cc6ca"/>
<rect x="1757.2" y="2551.4" width="2.2" height="2.2" fill="#3cc6ca"/>
<rect x="1765.1" y="2616.3" width="2.2" height="2.2" fill="#3cc6ca"/>
<rect x="1833.8" y="2212.0" width="2.2" height="2.2" fill="#3cc6ca"/>
<rect x="1716.2" y="2269.7" width="2.2" height="2.2" fill="#3cc6ca"/>
<rect x="1847.5" y="2375.4" width="2.2" height="2.2" fill="#3cc6ca"/>
<rect x="1793.9" y="2310.2" width="2.2" height="2.2" fill="#3cc6ca"/>
<rect x="1775.0" y="2351.1" width="2.2" height="2.2" fill="#3cc6ca"/>
<rect x="1750.2" y="2447.2" width="2.2" height="2.2" fill="#3cc6ca"/>
<rect x="1787.2" y="2601.2" width="2.2" height="2.2" fill="#3cc6ca"/>
<rect x="1802.7" y="2613.1" width="2.2" height="2.2" fill="#3cc6ca"/>
<rect x="1830.3" y="2643.1" width="2.2" height="2.2" fill="#3cc6ca"/>
<rect x="1801.0" y="2243.7" width="2.2" height="2.2" fill="#3cc6ca"/>
<rect x="1830.9" y="2630.3" width="2.2" height="2.2" fill="#3cc6ca"/>
<rect x="1837.9" y="2439.5" width="2.2" height="2.2" fill="#3cc6ca"/>
<rect x="1807.7" y="2266.8" width="2.2" height="2.2" fill="#3cc6ca"/>
<rect x="1826.3" y="2441.7" width="2.2" height="2.2" fill="#3cc6ca"/>
<rect x="1739.8" y="2195.6" width="2.2" height="2.2" fill="#3cc6ca"/>
<rect x="1829.9" y="2642.5" width="2.2" height="2.2" fill="#3cc6ca"/>
<rect x="1708.7" y="2551.2" width="2.2" height="2.2" fill="#3cc6ca"/>
<rect x="1759.7" y="2237.7" width="2.2" height="2.2" fill="#3cc6ca"/>
<rect x="1741.2" y="2535.9" width="2.2" height="2.2" fill="#3cc6ca"/>
<rect x="1832.9" y="2186.3" width="2.2" height="2.2" fill="#3cc6ca"/>
<rect x="1792.0" y="2186.7" width="2.2" height="2.2" fill="#3cc6ca"/>
<rect x="1808.4" y="2324.7" width="2.2" height="2.2" fill="#3cc6ca"/>
<rect x="1834.1" y="2638.1" width="2.2" height="2.2" fill="#3cc6ca"/>
<rect x="1774.7" y="2646.7" width="2.2" height="2.2" fill="#3cc6ca"/>
<rect x="1743.7" y="2202.1" width="2.2" height="2.2" fill="#3cc6ca"/>
<rect x="1789.6" y="2180.1" width="2.2" height="2.2" fill="#3cc6ca"/>
<rect x="1725.9" y="2361.8" width="2.2" height="2.2" fill="#3cc6ca"/>
<rect x="1791.3" y="2240.4" width="2.2" height="2.2" fill="#3cc6ca"/>
<rect x="1701.4" y="2583.6" width="2.2" height="2.2" fill="#3cc6ca"/>
<rect x="1744.4" y="2627.5" width="2.2" height="2.2" fill="#3cc6ca"/>
<rect x="1836.6" y="2347.2" width="2.2" height="2.2" fill="#3cc6ca"/>
<rect x="1767.6" y="2415.9" width="2.2" height="2.2" fill="#3cc6ca"/>
<rect x="1796.6" y="2452.3" width="2.2" height="2.2" fill="#3cc6ca"/>
<rect x="1783.2" y="2464.1" width="2.2" height="2.2" fill="#3cc6ca"/>
<rect x="1843.6" y="2409.6" width="2.2" height="2.2" fill="#3cc6ca"/>
<rect x="1763.0" y="2512.5" width="2.2" height="2.2" fill="#3cc6ca"/>
<rect x="1732.3" y="2310.2" width="2.2" height="2.2" fill="#3cc6ca"/>
<rect x="1849.5" y="2416.4" width="2.2" height="2.2" fill="#3cc6ca"/>
<rect x="1781.5" y="2170.5" width="2.2" height="2.2" fill="#3cc6ca"/>
<rect x="1760.4" y="2444.8" width="2.2" height="2.2" fill="#3cc6ca"/>
<rect x="1697.9" y="2462.1" width="2.2" height="2.2" fill="#3cc6ca"/>
<rect x="1794.8" y="2194.0" width="2.2" height="2.2" fill="#3cc6ca"/>
<rect x="1794.0" y="2389.9" width="2.2" height="2.2" fill="#3cc6ca"/>
<rect x="1802.2" y="2335.1" width="2.2" height="2.2" fill="#3cc6ca"/>
<rect x="1806.6" y="2521.0" width="2.2" height="2.2" fill="#3cc6ca"/>
<rect x="1698.2" y="2194.2" width="2.2" height="2.2" fill="#3cc6ca"/>
<rect x="1801.7" y="2629.7" width="2.2" height="2.2" fill="#3cc6ca"/>
<rect x="1734.5" y="2385.1" width="2.2" height="2.2" fill="#3cc6ca"/>
<rect x="1788.5" y="2319.4" width="2.2" height="2.2" fill="#3cc6ca"/>
<rect x="1752.3" y="2315.8" width="2.2" height="2.2" fill="#3cc6ca"/>
<rect x="1753.1" y="2452.3" width="2.2" height="2.2" fill="#3cc6ca"/>
<rect x="1742.3" y="2346.9" width="2.2" height="2.2" fill="#3cc6ca"/>
<rect x="1817.0" y="2178.0" width="2.2" height="2.2" fill="#3cc6ca"/>
<rect x="1784.8" y="2519.6" width="2.2" height="2.2" fill="#3cc6ca"/>
<rect x="1743.8" y="2272.4" width="2.2" height="2.2" fill="#3cc6ca"/>
<rect x="1821.9" y="2280.1" width="2.2" height="2.2" fill="#3cc6ca"/>
<rect x="1724.4" y="2375.0" width="2.2" height="2.2" fill="#3cc6ca"/>
<rect x="1805.2" y="2214.1" width="2.2" height="2.2" fill="#3cc6ca"/>
<rect x="1745.7" y="2326.0" width="2.2" height="2.2" fill="#3cc6ca"/>
<rect x="1826.6" y="2376.5" width="2.2" height="2.2" fill="#3cc6ca"/>
<rect x="1830.1" y="2246.7" width="2.2" height="2.2" fill="#3cc6ca"/>
<rect x="1748.0" y="2478.7" width="2.2" height="2.2" fill="#3cc6ca"/>
<rect x="1834.8" y="2382.6" width="2.2" height="2.2" fill="#3cc6ca"/>
<rect x="1730.3" y="2223.3" width="2.2" height="2.2" fill="#3cc6ca"/>
<rect x="1778.5" y="2257.0" width="2.2" height="2.2" fill="#3cc6ca"/>
<rect x="1822.4" y="2569.5" width="2.2" height="2.2" fill="#3cc6ca"/>
<rect x="1723.8" y="2299.4" width="2.2" height="2.2" fill="#3cc6ca"/>
<rect x="1822.5" y="2474.7" width="2.2" height="2.2" fill="#3cc6ca"/>
<rect x="1822.3" y="2331.6" width="2.2" height="2.2" fill="#3cc6ca"/>
<rect x="1715.2" y="2305.8" width="2.2" height="2.2" fill="#3cc6ca"/>
<rect x="1820.4" y="2295.8" width="2.2" height="2.2" fill="#3cc6ca"/>
<rect x="1749.5" y="2366.1" width="2.2" height="2.2" fill="#3cc6ca"/>
<rect x="1761.1" y="2362.6" width="2.2" height="2.2" fill="#3cc6ca"/>
<rect x="1840.4" y="2240.3" width="2.2" height="2.2" fill="#3cc6ca"/>
<rect x="1695.4" y="2620.0" width="2.2" height="2.2" fill="#3cc6ca"/>
<rect x="1834.0" y="2641.1" width="2.2" height="2.2" fill="#3cc6ca"/>
<rect x="1763.5" y="2623.4" width="2.2" height="2.2" fill="#3cc6ca"/>
<rect x="1841.5" y="2272.1" width="2.2" height="2.2" fill="#3cc6ca"/>
<rect x="1812.7" y="2568.6" width="2.2" height="2.2" fill="#3cc6ca"/>
<rect x="1799.7" y="2415.4" width="2.2" height="2.2" fill="#3cc6ca"/>
<rect x="1740.5" y="2329.5" width="2.2" height="2.2" fill="#3cc6ca"/>
<rect x="1730.7" y="2197.8" width="2.2" height="2.2" fill="#3cc6ca"/>
<rect x="1787.9" y="2303.5" width="2.2" height="2.2" fill="#3cc6ca"/>
<rect x="1823.0" y="2186.7" width="2.2" height="2.2" fill="#3cc6ca"/>
<rect x="1837.7" y="2499.6" width="2.2" height="2.2" fill="#3cc6ca"/>
<rect x="1840.9" y="2597.5" width="2.2" height="2.2" fill="#3cc6ca"/>
<rect x="1837.1" y="2443.3" width="2.2" height="2.2" fill="#3cc6ca"/>
<rect x="1696.8" y="2524.5" width="2.2" height="2.2" fill="#3cc6ca"/>
<rect x="1721.9" y="2309.7" width="2.2" height="2.2" fill="#3cc6ca"/>
<rect x="1799.6" y="2418.2" width="2.2" height="2.2" fill="#3cc6ca"/>
<rect x="1760.2" y="2618.0" width="2.2" height="2.2" fill="#3cc6ca"/>
<rect x="1791.6" y="2329.7" width="2.2" height="2.2" fill="#3cc6ca"/>
<rect x="1734.7" y="2580.7" width="2.2" height="2.2" fill="#3cc6ca"/>
<rect x="1770.2" y="2542.4" width="2.2" height="2.2" fill="#3cc6ca"/>
<rect x="1750.4" y="2260.2" width="2.2" height="2.2" fill="#3cc6ca"/>
<rect x="1779.3" y="2559.0" width="2.2" height="2.2" fill="#3cc6ca"/>
<rect x="1721.8" y="2546.9" width="2.2" height="2.2" fill="#3cc6ca"/>
<rect x="1840.6" y="2553.8" width="2.2" height="2.2" fill="#3cc6ca"/>
<rect x="1825.1" y="2168.6" width="2.2" height="2.2" fill="#3cc6ca"/>
<rect x="1794.2" y="2581.1" width="2.2" height="2.2" fill="#3cc6ca"/>
<rect x="1702.6" y="2295.9" width="2.2" height="2.2" fill="#3cc6ca"/>
<rect x="1737.2" y="2419.4" width="2.2" height="2.2" fill="#3cc6ca"/>
<rect x="1761.7" y="2393.1" width="2.2" height="2.2" fill="#3cc6ca"/>
<rect x="1817.6" y="2165.9" width="2.2" height="2.2" fill="#3cc6ca"/>
<rect x="1703.4" y="2226.2" width="2.2" height="2.2" fill="#3cc6ca"/>
<rect x="1714.4" y="2198.0" width="2.2" height="2.2" fill="#3cc6ca"/>
<rect x="1849.0" y="2577.2" width="2.2" height="2.2" fill="#3cc6ca"/>
<rect x="1708.3" y="2407.2" width="2.2" height="2.2" fill="#3cc6ca"/>
<rect x="1744.7" y="2316.8" width="2.2" height="2.2" fill="#3cc6ca"/>
<rect x="1750.3" y="2477.1" width="2.2" height="2.2" fill="#3cc6ca"/>
<rect x="1787.6" y="2339.1" width="2.2" height="2.2" fill="#3cc6ca"/>
<rect x="1724.9" y="2323.6" width="2.2" height="2.2" fill="#3cc6ca"/>
<rect x="1714.3" y="2433.0" width="2.2" height="2.2" fill="#3cc6ca"/>
<rect x="1808.0" y="2348.4" width="2.2" height="2.2" fill="#3cc6ca"/>
<rect x="1707.3" y="2251.1" width="2.2" height="2.2" fill="#3cc6ca"/>
<rect x="1753.8" y="2456.6" width="2.2" height="2.2" fill="#3cc6ca"/>
<rect x="1818.6" y="2348.4" width="2.2" height="2.2" fill="#3cc6ca"/>
<rect x="1821.5" y="2465.5" width="2.2" height="2.2" fill="#3cc6ca"/>
<rect x="1763.0" y="2344.7" width="2.2" height="2.2" fill="#3cc6ca"/>
<rect x="1773.2" y="2504.1" width="2.2" height="2.2" fill="#3cc6ca"/>
<rect x="1761.3" y="2499.8" width="2.2" height="2.2" fill="#3cc6ca"/>
<rect x="1767.7" y="2283.2" width="2.2" height="2.2" fill="#3cc6ca"/>
<rect x="1779.5" y="2500.3" width="2.2" height="2.2" fill="#3cc6ca"/>
<rect x="1706.0" y="2370.0" width="2.2" height="2.2" fill="#3cc6ca"/>
<rect x="1762.1" y="2589.4" width="2.2" height="2.2" fill="#3cc6ca"/>
<rect x="1842.9" y="2345.5" width="2.2" height="2.2" fill="#3cc6ca"/>
<rect x="1836.8" y="2546.5" width="2.2" height="2.2" fill="#3cc6ca"/>
<rect x="1736.2" y="2388.9" width="2.2" height="2.2" fill="#3cc6ca"/>
<rect x="1714.2" y="2557.3" width="2.2" height="2.2" fill="#3cc6ca"/>
<rect x="1799.5" y="2593.1" width="2.2" height="2.2" fill="#3cc6ca"/>
<rect x="1820.1" y="2487.0" width="2.2" height="2.2" fill="#3cc6ca"/>
<rect x="1810.9" y="2437.0" width="2.2" height="2.2" fill="#3cc6ca"/>
<rect x="1711.0" y="2448.5" width="2.2" height="2.2" fill="#3cc6ca"/>
<rect x="1695.5" y="2234.2" width="2.2" height="2.2" fill="#3cc6ca"/>
<rect x="1817.3" y="2186.4" width="2.2" height="2.2" fill="#3cc6ca"/>
<rect x="1709.2" y="2212.9" width="2.2" height="2.2" fill="#3cc6ca"/>
<rect x="1834.1" y="2251.4" width="2.2" height="2.2" fill="#3cc6ca"/>
<rect x="1698.4" y="2571.0" width="2.2" height="2.2" fill="#3cc6ca"/>
<rect x="1713.9" y="2572.1" width="2.2" height="2.2" fill="#3cc6ca"/>
<rect x="1801.3" y="2568.4" width="2.2" height="2.2" fill="#3cc6ca"/>
<rect x="1845.5" y="2444.3" width="2.2" height="2.2" fill="#3cc6ca"/>
<rect x="1821.1" y="2182.5" width="2.2" height="2.2" fill="#3cc6ca"/>
<rect x="1816.2" y="2411.7" width="2.2" height="2.2" fill="#3cc6ca"/>
<rect x="1807.9" y="2216.5" width="2.2" height="2.2" fill="#3cc6ca"/>
<rect x="1813.3" y="2615.8" width="2.2" height="2.2" fill="#3cc6ca"/>
<rect x="1704.4" y="2321.4" width="2.2" height="2.2" fill="#3cc6ca"/>
<rect x="1784.0" y="2564.5" width="2.2" height="2.2" fill="#3cc6ca"/>
<rect x="1733.0" y="2251.7" width="2.2" height="2.2" fill="#3cc6ca"/>
<rect x="1734.3" y="2462.1" width="2.2" height="2.2" fill="#3cc6ca"/>
<rect x="1814.0" y="2354.9" width="2.2" height="2.2" fill="#3cc6ca"/>
<rect x="1752.9" y="2356.3" width="2.2" height="2.2" fill="#3cc6ca"/>
<rect x="1750.2" y="2366.7" width="2.2" height="2.2" fill="#3cc6ca"/>
<rect x="1707.9" y="2406.3" width="2.2" height="2.2" fill="#3cc6ca"/>
<rect x="1848.7" y="2364.1" width="2.2" height="2.2" fill="#3cc6ca"/>
<rect x="1813.0" y="2242.5" width="2.2" height="2.2" fill="#3cc6ca"/>
<rect x="1804.1" y="2529.8" width="2.2" height="2.2" fill="#3cc6ca"/>
<rect x="1801.4" y="2414.4" width="2.2" height="2.2" fill="#3cc6ca"/>
<rect x="1771.3" y="2475.2" width="2.2" height="2.2" fill="#3cc6ca"/>
<rect x="1836.8" y="2237.0" width="2.2" height="2.2" fill="#3cc6ca"/>
<rect x="1709.9" y="2525.9" width="2.2" height="2.2" fill="#3cc6ca"/>
<rect x="1839.8" y="2414.5" width="2.2" height="2.2" fill="#3cc6ca"/>
<rect x="1764.8" y="2511.8" width="2.2" height="2.2" fill="#3cc6ca"/>
<rect x="1724.2" y="2294.0" width="2.2" height="2.2" fill="#3cc6ca"/>
<rect x="1726.2" y="2447.5" width="2.2" height="2.2" fill="#3cc6ca"/>
<rect x="1744.5" y="2277.1" width="2.2" height="2.2" fill="#3cc6ca"/>
<rect x="1804.1" y="2624.9" width="2.2" height="2.2" fill="#3cc6ca"/>
<rect x="1741.5" y="2505.3" width="2.2" height="2.2" fill="#3cc6ca"/>
<rect x="1760.1" y="2576.8" width="2.2" height="2.2" fill="#3cc6ca"/>
<rect x="1787.2" y="2293.9" width="2.2" height="2.2" fill="#3cc6ca"/>
<rect x="1729.1" y="2176.2" width="2.2" height="2.2" fill="#3cc6ca"/>
<rect x="1770.6" y="2349.6" width="2.2" height="2.2" fill="#3cc6ca"/>
<rect x="1722.0" y="2338.9" width="2.2" height="2.2" fill="#3cc6ca"/>
<rect x="1745.7" y="2538.5" width="2.2" height="2.2" fill="#3cc6ca"/>
<rect x="1717.4" y="2643.2" width="2.2" height="2.2" fill="#3cc6ca"/>
<rect x="1770.6" y="2454.0" width="2.2" height="2.2" fill="#3cc6ca"/>
<rect x="1768.8" y="2567.6" width="2.2" height="2.2" fill="#3cc6ca"/>
<rect x="1824.8" y="2433.8" width="2.2" height="2.2" fill="#3cc6ca"/>
<rect x="1770.9" y="2512.7" width="2.2" height="2.2" fill="#3cc6ca"/>
<rect x="1830.3" y="2358.1" width="2.2" height="2.2" fill="#3cc6ca"/>
<rect x="1810.8" y="2628.2" width="2.2" height="2.2" fill="#3cc6ca"/>
<rect x="1768.7" y="2275.8" width="2.2" height="2.2" fill="#3cc6ca"/>
<rect x="1731.9" y="2511.2" width="2.2" height="2.2" fill="#3cc6ca"/>
<rect x="1801.6" y="2627.5" width="2.2" height="2.2" fill="#3cc6ca"/>
<rect x="1829.9" y="2281.8" width="2.2" height="2.2" fill="#3cc6ca"/>
<rect x="1724.7" y="2289.8" width="2.2" height="2.2" fill="#3cc6ca"/>
<rect x="1724.3" y="2505.0" width="2.2" height="2.2" fill="#3cc6ca"/>
<rect x="1830.6" y="2599.0" width="2.2" height="2.2" fill="#3cc6ca"/>
<rect x="1735.1" y="2582.3" width="2.2" height="2.2" fill="#3cc6ca"/>
<rect x="1744.3" y="2369.2" width="2.2" height="2.2" fill="#3cc6ca"/>
<rect x="1810.1" y="2206.5" width="2.2" height="2.2" fill="#3cc6ca"/>
<rect x="1709.4" y="2567.3" width="2.2" height="2.2" fill="#3cc6ca"/>
<rect x="1740.9" y="2337.1" width="2.2" height="2.2" fill="#3cc6ca"/>
<text transform="translate(976.0,2227) scale(0.71,1)" font-size="32" fill="#000" textLength="88.0" lengthAdjust="spacing">Frang</text>
<text transform="translate(976.0,2260.6) scale(0.71,1)" font-size="32" fill="#000" textLength="69.7" lengthAdjust="spacing">Nuts</text>
<text transform="translate(884.5,1920.6) scale(0.71,1)" font-size="32" fill="#000" textLength="266.1" lengthAdjust="spacing">Cup Square Neck</text>
<text transform="translate(884.5,1954.2) scale(0.71,1)" font-size="32" fill="#000" textLength="198.5" lengthAdjust="spacing">Bolts M8X15</text>
<text transform="translate(931.6,883.5) scale(0.71,1)" font-size="32" fill="#000" textLength="88.2" lengthAdjust="spacing">Frang</text>
<text transform="translate(931.6,916.2) scale(0.71,1)" font-size="32" fill="#000" textLength="69.7" lengthAdjust="spacing">Nuts</text>
<rect x="1060.7" y="1633.8" width="28.4" height="31" rx="1.2" fill="none" stroke="#000" stroke-width="2.6"/>
</svg></body></html>
